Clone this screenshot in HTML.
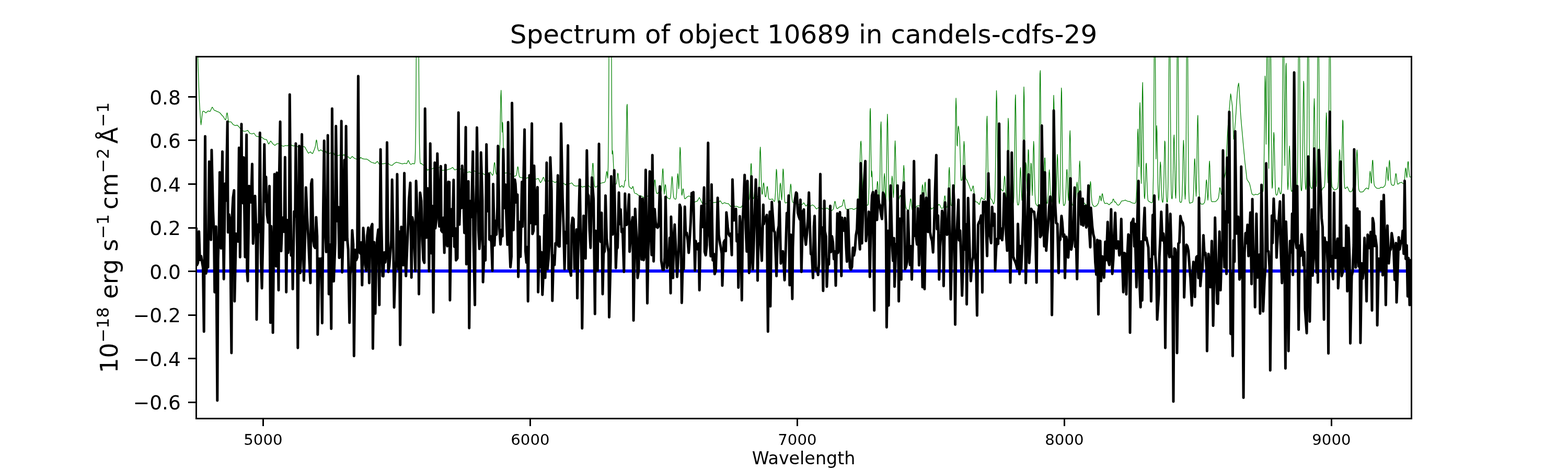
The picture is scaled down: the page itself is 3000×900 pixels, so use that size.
<!DOCTYPE html>
<html><head><meta charset="utf-8"><title>Spectrum of object 10689 in candels-cdfs-29</title><style>html,body{margin:0;padding:0;background:#fff;width:3000px;height:900px;overflow:hidden}svg{display:block}</style></head><body>
<svg width="3000" height="900" viewBox="0 0 3000 900">
<defs><clipPath id="ax"><rect x="375" y="108" width="2325" height="693"/></clipPath></defs>
<rect width="3000" height="900" fill="#fff"/>
<g clip-path="url(#ax)" fill="none" stroke-linejoin="round">
<polyline stroke="#008000" stroke-width="1.25" points="375.0,1.4 375.6,20.5 376.3,39.5 376.9,58.5 377.6,77.6 378.2,97.0 378.8,117.4 379.5,137.8 380.1,158.1 380.8,178.5 381.4,192.7 382.0,203.2 382.7,213.4 383.3,223.6 384.0,233.8 384.6,239.0 385.2,233.4 385.9,227.7 386.5,222.1 387.2,216.4 387.8,213.3 388.4,213.2 389.1,213.1 389.7,212.9 390.4,213.2 391.0,213.8 391.6,214.3 392.3,214.9 392.9,215.4 393.6,216.0 394.2,216.2 394.8,215.5 395.5,214.9 396.1,214.3 396.8,213.6 397.4,213.0 398.0,212.4 398.7,212.6 399.3,212.7 400.0,212.9 400.6,213.1 401.2,213.3 401.9,213.5 402.5,212.4 403.2,211.0 403.8,209.6 404.4,208.2 405.1,206.8 405.7,205.4 406.4,205.4 407.0,206.4 407.6,207.5 408.3,208.5 408.9,209.5 409.6,210.6 410.2,211.4 410.8,211.5 411.5,211.7 412.1,211.9 412.8,212.1 413.4,212.6 414.0,213.0 414.7,213.2 415.3,213.4 416.0,213.7 416.6,213.9 417.2,214.1 417.9,214.3 418.5,214.7 419.2,215.0 419.8,215.4 420.4,215.8 421.1,216.5 421.7,217.3 422.4,218.0 423.0,218.7 423.6,219.5 424.3,220.2 424.9,221.0 425.6,221.7 426.2,222.3 426.8,222.7 427.5,223.6 428.1,224.8 428.8,225.9 429.4,227.0 430.0,228.0 430.7,228.9 431.3,229.4 432.0,228.9 432.6,225.9 433.2,221.5 433.9,217.3 434.5,216.0 435.2,218.3 435.8,222.9 436.4,227.7 437.1,231.0 437.7,232.9 438.4,233.5 439.0,233.5 439.6,233.3 440.3,233.3 440.9,233.3 441.6,233.3 442.2,233.6 442.8,234.4 443.5,235.2 444.1,236.0 444.8,236.8 445.4,237.6 446.0,238.4 446.7,238.7 447.3,239.1 448.0,239.4 448.6,239.8 449.2,240.1 449.9,240.4 450.5,240.4 451.2,240.2 451.8,240.1 452.4,239.9 453.1,239.8 453.7,239.6 454.4,240.0 455.0,240.6 455.6,241.3 456.3,242.0 456.9,242.7 457.6,243.4 458.2,244.1 458.8,244.8 459.5,245.6 460.1,246.4 460.8,247.2 461.4,248.1 462.0,248.8 462.7,249.2 463.3,249.6 464.0,249.9 464.6,250.3 465.2,250.6 465.9,251.0 466.5,251.3 467.2,251.4 467.8,251.4 468.4,251.3 469.1,251.3 469.7,251.2 470.4,251.0 471.0,250.8 471.6,250.5 472.3,250.2 472.9,249.9 473.6,249.7 474.2,249.8 474.8,250.7 475.5,251.6 476.1,252.6 476.8,253.5 477.4,254.4 478.0,255.3 478.7,255.5 479.3,255.7 480.0,255.9 480.6,256.0 481.2,256.2 481.9,256.4 482.5,256.3 483.2,256.0 483.8,255.8 484.4,255.6 485.1,255.4 485.7,255.1 486.4,255.5 487.0,256.5 487.6,257.4 488.3,258.3 488.9,259.3 489.6,260.2 490.2,260.9 490.8,261.0 491.5,261.2 492.1,261.3 492.8,261.4 493.4,261.5 494.0,261.6 494.7,261.5 495.3,261.5 496.0,261.4 496.6,261.3 497.2,261.2 497.9,261.2 498.5,261.5 499.2,261.9 499.8,262.3 500.4,262.8 501.1,263.2 501.7,263.6 502.4,264.0 503.0,264.5 503.6,265.0 504.3,265.5 504.9,266.0 505.6,266.4 506.2,266.8 506.8,266.8 507.5,266.9 508.1,267.0 508.8,267.0 509.4,267.1 510.0,267.3 510.7,268.7 511.3,270.1 512.0,271.6 512.6,273.0 513.2,274.4 513.9,275.8 514.5,275.3 515.2,274.3 515.8,273.2 516.4,272.2 517.1,271.2 517.7,270.2 518.4,270.2 519.0,271.2 519.6,272.1 520.3,273.0 520.9,273.9 521.6,274.9 522.2,275.6 522.8,276.1 523.5,276.6 524.1,277.1 524.8,277.6 525.4,278.1 526.0,278.4 526.7,277.9 527.3,277.3 528.0,276.8 528.6,276.3 529.2,275.8 529.9,275.2 530.5,275.1 531.2,275.1 531.8,275.1 532.4,275.1 533.1,275.1 533.7,275.0 534.4,275.3 535.0,275.8 535.6,276.3 536.3,276.8 536.9,277.3 537.6,277.8 538.2,278.3 538.8,278.6 539.5,279.0 540.1,279.3 540.8,279.6 541.4,280.0 542.0,280.3 542.7,280.0 543.3,279.8 544.0,279.5 544.6,279.3 545.2,279.0 545.9,278.7 546.5,278.7 547.2,278.8 547.8,278.8 548.4,278.9 549.1,279.0 549.7,279.1 550.4,278.9 551.0,278.4 551.6,278.0 552.3,277.6 552.9,277.2 553.6,276.7 554.2,276.5 554.8,276.8 555.5,277.1 556.1,277.3 556.8,277.6 557.4,277.9 558.0,278.2 558.7,278.4 559.3,278.6 560.0,278.9 560.6,279.1 561.2,279.4 561.9,279.6 562.5,279.4 563.2,279.2 563.8,278.9 564.4,278.7 565.1,278.5 565.7,278.2 566.4,278.4 567.0,278.9 567.6,279.4 568.3,279.9 568.9,280.4 569.6,280.9 570.2,281.4 570.8,281.7 571.5,282.0 572.1,282.3 572.8,282.6 573.4,282.9 574.0,283.2 574.7,282.8 575.3,282.3 576.0,281.9 576.6,281.5 577.2,281.0 577.9,280.6 578.5,280.6 579.2,280.6 579.8,280.7 580.4,280.8 581.1,280.8 581.7,280.9 582.4,281.1 583.0,281.5 583.6,282.1 584.3,283.3 584.9,284.5 585.6,285.7 586.2,286.9 586.8,288.0 587.5,289.1 588.1,290.2 588.8,291.4 589.4,292.5 590.0,293.5 590.7,293.0 591.3,292.6 592.0,292.1 592.6,291.6 593.2,291.2 593.9,290.7 594.5,291.2 595.2,292.0 595.8,292.8 596.4,293.3 597.1,293.8 597.7,294.2 598.4,293.6 599.0,292.0 599.6,290.5 600.3,289.0 600.9,287.5 601.6,285.8 602.2,284.1 602.8,282.3 603.5,279.4 604.1,274.9 604.8,270.3 605.4,267.9 606.0,269.3 606.7,274.3 607.3,279.8 608.0,284.0 608.6,286.5 609.2,288.0 609.9,289.1 610.5,289.0 611.2,288.6 611.8,288.2 612.4,287.8 613.1,287.4 613.7,287.0 614.4,287.2 615.0,287.7 615.6,288.2 616.3,288.7 616.9,289.2 617.6,289.7 618.2,290.0 618.8,289.6 619.5,289.2 620.1,288.9 620.8,288.5 621.4,288.2 622.0,287.9 622.7,289.0 623.3,290.2 624.0,291.3 624.6,292.5 625.2,293.6 625.9,294.8 626.5,294.9 627.2,294.7 627.8,294.6 628.4,294.4 629.1,294.3 629.7,294.1 630.4,293.9 631.0,293.5 631.6,293.2 632.3,292.9 632.9,292.6 633.6,292.2 634.2,292.0 634.8,292.1 635.5,292.2 636.1,292.2 636.8,292.3 637.4,292.4 638.0,292.5 638.7,293.8 639.3,295.2 640.0,296.5 640.6,297.8 641.2,299.1 641.9,300.4 642.5,300.3 643.2,299.9 643.8,299.4 644.4,299.0 645.1,298.6 645.7,298.2 646.4,297.9 647.0,297.7 647.6,297.6 648.3,297.4 648.9,297.3 649.6,297.1 650.2,297.2 650.8,297.6 651.5,298.0 652.1,298.5 652.8,298.9 653.4,299.3 654.0,299.7 654.7,299.1 655.3,298.5 656.0,297.9 656.6,297.3 657.2,296.7 657.9,296.0 658.5,296.8 659.2,297.8 659.8,298.9 660.4,299.9 661.1,301.0 661.7,302.1 662.4,302.3 663.0,301.9 663.6,301.5 664.3,301.1 664.9,300.7 665.6,300.3 666.2,300.2 666.8,300.8 667.5,301.4 668.1,302.0 668.8,302.6 669.4,303.2 670.0,303.7 670.7,303.0 671.3,302.3 672.0,301.6 672.6,300.9 673.2,300.2 673.9,299.5 674.5,299.9 675.2,300.5 675.8,301.1 676.4,301.7 677.1,302.3 677.7,302.9 678.4,303.3 679.0,303.5 679.6,303.8 680.3,304.0 680.9,304.2 681.6,304.5 682.2,304.8 682.8,305.3 683.5,305.9 684.1,306.4 684.8,307.0 685.4,307.5 686.0,308.0 686.7,306.9 687.3,305.9 688.0,304.8 688.6,303.8 689.2,302.8 689.9,301.7 690.5,301.9 691.2,302.3 691.8,302.7 692.4,303.1 693.1,303.5 693.7,303.9 694.4,304.1 695.0,304.2 695.6,304.3 696.3,304.4 696.9,304.5 697.6,304.6 698.2,304.7 698.8,304.6 699.5,304.6 700.1,304.6 700.8,304.6 701.4,304.7 702.0,304.7 702.7,305.2 703.3,305.6 704.0,306.0 704.6,306.4 705.2,306.9 705.9,307.3 706.5,307.8 707.2,308.3 707.8,308.8 708.4,309.3 709.1,309.8 709.7,310.3 710.4,310.6 711.0,310.8 711.6,311.0 712.3,311.3 712.9,311.5 713.6,311.7 714.2,311.9 714.8,312.1 715.5,312.2 716.1,312.4 716.8,312.6 717.4,312.7 718.0,312.8 718.7,312.3 719.3,311.7 720.0,311.0 720.6,310.4 721.2,309.7 721.9,309.0 722.5,309.7 723.2,310.7 723.8,311.7 724.4,312.7 725.1,313.7 725.7,314.7 726.4,315.0 727.0,314.8 727.6,314.6 728.3,314.3 728.9,314.1 729.6,313.9 730.2,313.7 730.8,313.6 731.5,313.6 732.1,313.6 732.8,313.5 733.4,313.5 734.0,313.5 734.7,313.3 735.3,313.2 736.0,313.1 736.6,312.9 737.2,312.8 737.9,312.7 738.5,312.6 739.2,312.5 739.8,312.4 740.4,312.3 741.1,312.2 741.7,312.0 742.4,312.3 743.0,312.9 743.6,313.6 744.3,314.2 744.9,314.8 745.6,315.4 746.2,315.8 746.8,316.0 747.5,316.2 748.1,316.3 748.8,316.5 749.4,316.7 750.0,316.8 750.7,316.2 751.3,315.6 752.0,315.0 752.6,314.5 753.2,313.9 753.9,313.3 754.5,312.9 755.2,312.5 755.8,312.1 756.4,311.6 757.1,311.2 757.7,310.8 758.4,310.7 759.0,310.9 759.6,311.0 760.3,311.2 760.9,311.4 761.6,311.5 762.2,311.7 762.8,311.8 763.5,312.0 764.1,312.2 764.8,312.4 765.4,312.6 766.0,312.8 766.7,312.9 767.3,313.1 768.0,313.3 768.6,313.5 769.2,313.6 769.9,313.8 770.5,313.7 771.2,313.5 771.8,313.3 772.4,313.1 773.1,312.9 773.7,312.7 774.4,312.7 775.0,312.9 775.6,313.0 776.3,313.2 776.9,313.4 777.6,313.4 778.2,313.1 778.8,312.1 779.5,310.6 780.1,308.9 780.8,307.7 781.4,307.4 782.0,308.2 782.7,310.1 783.3,311.7 784.0,312.8 784.6,313.6 785.2,314.2 785.9,314.7 786.5,314.6 787.2,314.3 787.8,314.0 788.4,313.7 789.1,313.4 789.7,313.0 790.4,313.1 791.0,313.3 791.6,313.6 792.3,313.8 792.9,313.6 793.6,311.9 794.2,305.4 794.8,286.1 795.5,240.4 796.1,151.2 796.8,10.6 797.4,-163.3 798.0,-320.3 798.7,-397.8 799.3,-361.0 800.0,-226.7 800.6,-51.6 801.2,105.7 801.9,214.6 802.5,274.4 803.2,301.0 803.8,310.6 804.4,313.2 805.1,313.5 805.7,313.1 806.4,313.1 807.0,313.7 807.6,314.3 808.3,314.8 808.9,315.4 809.6,315.9 810.2,316.3 810.8,316.5 811.5,316.7 812.1,316.9 812.8,317.1 813.4,317.3 814.0,317.6 814.7,319.0 815.3,320.4 816.0,321.8 816.6,323.1 817.2,324.5 817.9,325.9 818.5,325.8 819.2,325.2 819.8,324.7 820.4,324.2 821.1,323.6 821.7,323.1 822.4,323.0 823.0,323.1 823.6,323.2 824.3,323.3 824.9,323.5 825.6,323.6 826.2,323.6 826.8,323.2 827.5,322.9 828.1,322.5 828.8,322.2 829.4,321.9 830.0,321.6 830.7,322.6 831.3,323.5 832.0,324.5 832.6,325.5 833.2,326.5 833.9,327.4 834.5,326.7 835.2,325.6 835.8,324.5 836.4,323.4 837.1,322.3 837.7,321.1 838.4,320.7 839.0,320.8 839.6,320.8 840.3,320.9 840.9,321.0 841.6,321.1 842.2,321.4 842.8,322.2 843.5,323.0 844.1,323.9 844.8,324.7 845.4,325.5 846.0,326.3 846.7,326.2 847.3,326.1 848.0,326.1 848.6,326.0 849.2,325.9 849.9,325.9 850.5,325.8 851.2,325.8 851.8,325.8 852.4,325.8 853.1,325.7 853.7,325.7 854.4,325.6 855.0,325.3 855.6,325.1 856.3,324.8 856.9,324.6 857.6,324.3 858.2,324.1 858.8,324.0 859.5,323.8 860.1,323.6 860.8,323.5 861.4,323.3 862.0,323.1 862.7,322.7 863.3,322.3 864.0,321.8 864.6,321.4 865.2,321.0 865.9,320.5 866.5,321.1 867.2,321.9 867.8,322.7 868.4,323.5 869.1,324.3 869.7,325.1 870.4,325.3 871.0,325.1 871.6,324.8 872.3,324.6 872.9,324.4 873.6,324.1 874.2,324.0 874.8,324.3 875.5,324.6 876.1,324.9 876.8,325.2 877.4,325.4 878.0,325.7 878.7,325.2 879.3,324.8 880.0,324.3 880.6,323.9 881.2,323.4 881.9,322.9 882.5,323.2 883.2,323.6 883.8,324.0 884.4,324.4 885.1,324.9 885.7,325.3 886.4,325.4 887.0,325.3 887.6,325.1 888.3,325.0 888.9,324.9 889.6,324.7 890.2,324.9 890.8,325.8 891.5,326.7 892.1,327.6 892.8,328.5 893.4,329.4 894.0,330.2 894.7,330.0 895.3,329.8 896.0,329.6 896.6,329.4 897.2,329.2 897.9,328.9 898.5,329.1 899.2,329.4 899.8,329.7 900.4,330.0 901.1,330.3 901.7,330.6 902.4,330.3 903.0,329.6 903.6,328.9 904.3,328.3 904.9,327.6 905.6,326.9 906.2,326.5 906.8,326.9 907.5,327.2 908.1,327.6 908.8,328.0 909.4,328.3 910.0,328.7 910.7,329.1 911.3,329.5 912.0,329.9 912.6,330.3 913.2,330.7 913.9,331.1 914.5,331.3 915.2,331.4 915.8,331.6 916.4,331.7 917.1,331.9 917.7,332.0 918.4,332.0 919.0,331.7 919.6,331.5 920.3,331.3 920.9,331.1 921.6,330.9 922.2,330.9 922.8,331.4 923.5,331.8 924.1,332.3 924.8,332.8 925.4,333.3 926.0,333.8 926.7,334.0 927.3,334.1 928.0,334.3 928.6,334.5 929.2,334.6 929.9,334.8 930.5,334.5 931.2,334.2 931.8,333.8 932.4,333.4 933.1,333.0 933.7,332.7 934.4,332.2 935.0,331.6 935.6,331.1 936.3,330.6 936.9,330.1 937.6,329.6 938.2,329.5 938.8,330.6 939.5,331.6 940.1,332.7 940.8,333.7 941.4,334.8 942.0,335.6 942.7,335.4 943.3,334.2 944.0,330.9 944.6,324.6 945.2,317.0 945.9,311.5 946.5,311.3 947.2,316.2 947.8,323.2 948.4,329.0 949.1,332.2 949.7,333.5 950.4,333.9 951.0,334.1 951.6,334.1 952.3,334.2 952.9,334.2 953.6,334.0 954.2,332.8 954.8,328.6 955.5,318.3 956.1,297.2 956.8,262.7 957.4,220.1 958.0,184.3 958.7,172.8 959.3,191.2 960.0,229.8 960.6,253.2 961.2,234.2 961.9,236.2 962.5,258.2 963.2,287.1 963.8,310.2 964.4,323.3 965.1,328.9 965.7,330.9 966.4,331.4 967.0,331.4 967.6,331.3 968.3,331.2 968.9,331.0 969.6,330.9 970.2,330.9 970.8,331.2 971.5,331.4 972.1,331.7 972.8,331.9 973.4,332.2 974.0,332.4 974.7,332.6 975.3,332.8 976.0,332.9 976.6,333.1 977.2,333.3 977.9,333.5 978.5,334.1 979.2,334.8 979.8,335.6 980.4,336.3 981.1,337.0 981.7,337.8 982.4,338.0 983.0,337.8 983.6,337.6 984.3,337.4 984.9,337.3 985.6,337.1 986.2,336.9 986.8,336.7 987.5,336.2 988.1,334.7 988.8,331.5 989.4,326.6 990.0,321.5 990.7,319.2 991.3,320.9 992.0,326.0 992.6,331.6 993.2,335.9 993.9,338.4 994.5,339.3 995.2,339.6 995.8,339.7 996.4,339.8 997.1,339.8 997.7,339.9 998.4,340.1 999.0,340.3 999.6,340.6 1000.3,340.9 1000.9,341.2 1001.6,341.4 1002.2,341.6 1002.8,341.6 1003.5,341.6 1004.1,341.6 1004.8,341.6 1005.4,341.6 1006.0,341.6 1006.7,341.3 1007.3,341.1 1008.0,340.9 1008.6,340.6 1009.2,340.4 1009.9,340.1 1010.5,340.6 1011.2,341.1 1011.8,341.7 1012.4,342.3 1013.1,342.8 1013.7,343.3 1014.4,343.5 1015.0,343.5 1015.6,343.6 1016.3,343.6 1016.9,343.6 1017.6,343.6 1018.2,343.5 1018.8,343.3 1019.5,343.1 1020.1,342.9 1020.8,342.6 1021.4,342.4 1022.0,342.2 1022.7,342.3 1023.3,342.5 1024.0,342.7 1024.6,342.8 1025.2,343.0 1025.9,343.1 1026.5,342.9 1027.2,342.7 1027.8,342.4 1028.4,342.2 1029.1,341.9 1029.7,341.7 1030.4,342.3 1031.0,343.7 1031.6,345.0 1032.3,346.4 1032.9,347.8 1033.6,349.1 1034.2,349.8 1034.8,348.9 1035.5,348.0 1036.1,347.0 1036.8,345.9 1037.4,344.4 1038.0,342.4 1038.7,341.1 1039.3,339.8 1040.0,339.5 1040.6,340.7 1041.2,343.0 1041.9,345.4 1042.5,346.8 1043.2,347.4 1043.8,347.5 1044.4,347.5 1045.1,347.4 1045.7,347.3 1046.4,347.1 1047.0,347.0 1047.6,346.9 1048.3,346.7 1048.9,346.6 1049.6,346.4 1050.2,346.4 1050.8,346.4 1051.5,346.4 1052.1,346.4 1052.8,346.4 1053.4,346.4 1054.0,346.5 1054.7,346.6 1055.3,346.7 1056.0,346.8 1056.6,346.9 1057.2,347.0 1057.9,347.1 1058.5,347.5 1059.2,347.8 1059.8,348.2 1060.4,348.6 1061.1,349.0 1061.7,349.4 1062.4,349.4 1063.0,349.0 1063.6,348.6 1064.3,348.2 1064.9,347.8 1065.6,347.4 1066.2,347.4 1066.8,348.1 1067.5,348.8 1068.1,349.6 1068.8,350.3 1069.4,351.0 1070.0,351.7 1070.7,351.8 1071.3,351.8 1072.0,351.9 1072.6,351.9 1073.2,352.0 1073.9,352.0 1074.5,351.8 1075.2,351.6 1075.8,351.4 1076.4,351.2 1077.1,351.0 1077.7,350.7 1078.4,351.0 1079.0,351.5 1079.6,352.1 1080.3,352.6 1080.9,353.1 1081.6,353.7 1082.2,353.8 1082.8,353.0 1083.5,352.2 1084.1,351.4 1084.8,350.6 1085.4,349.8 1086.0,349.0 1086.7,349.5 1087.3,350.0 1088.0,350.5 1088.6,351.0 1089.2,351.4 1089.9,351.9 1090.5,351.7 1091.2,351.4 1091.8,351.1 1092.4,350.8 1093.1,350.5 1093.7,350.2 1094.4,350.5 1095.0,351.3 1095.6,352.2 1096.3,353.0 1096.9,353.8 1097.6,354.6 1098.2,355.2 1098.8,355.4 1099.5,355.6 1100.1,355.8 1100.8,356.0 1101.4,356.2 1102.0,356.4 1102.7,356.3 1103.3,356.2 1104.0,356.1 1104.6,356.0 1105.2,355.9 1105.9,355.8 1106.5,355.7 1107.2,355.6 1107.8,355.4 1108.4,355.3 1109.1,355.2 1109.7,355.1 1110.4,355.4 1111.0,355.9 1111.6,356.4 1112.3,357.0 1112.9,357.5 1113.6,358.0 1114.2,358.3 1114.8,358.1 1115.5,357.8 1116.1,357.6 1116.8,357.4 1117.4,357.1 1118.0,356.9 1118.7,357.2 1119.3,357.4 1120.0,357.6 1120.6,357.8 1121.2,358.0 1121.9,358.3 1122.5,357.9 1123.2,357.5 1123.8,357.0 1124.4,356.6 1125.1,356.1 1125.7,355.5 1126.4,355.6 1127.0,356.2 1127.6,356.9 1128.3,357.6 1128.9,358.2 1129.6,358.9 1130.2,358.9 1130.8,357.5 1131.5,354.3 1132.1,347.7 1132.8,336.6 1133.4,323.0 1134.0,312.8 1134.7,312.6 1135.3,321.8 1136.0,335.2 1136.6,346.6 1137.2,353.6 1137.9,356.9 1138.5,357.9 1139.2,358.2 1139.8,358.3 1140.4,358.0 1141.1,357.6 1141.7,357.1 1142.4,356.6 1143.0,356.0 1143.6,355.4 1144.3,354.7 1144.9,354.1 1145.6,353.5 1146.2,353.0 1146.8,352.6 1147.5,352.2 1148.1,351.8 1148.8,351.5 1149.4,351.1 1150.0,350.7 1150.7,350.5 1151.3,350.4 1152.0,350.2 1152.6,350.0 1153.2,349.8 1153.9,349.6 1154.5,349.6 1155.2,349.6 1155.8,349.5 1156.4,349.3 1157.1,348.8 1157.7,347.8 1158.4,345.7 1159.0,341.7 1159.6,335.8 1160.3,330.3 1160.9,328.2 1161.6,331.2 1162.2,337.5 1162.8,341.2 1163.5,320.6 1164.1,270.8 1164.8,172.1 1165.4,13.3 1166.0,-188.0 1166.7,-376.5 1167.3,-478.8 1168.0,-449.2 1168.6,-301.3 1169.2,-98.9 1169.9,88.1 1170.5,220.9 1171.2,295.0 1171.8,288.1 1172.4,290.4 1173.1,301.0 1173.7,315.9 1174.4,330.1 1175.0,340.6 1175.6,347.0 1176.3,350.4 1176.9,351.9 1177.6,352.5 1178.2,352.7 1178.8,352.5 1179.5,351.0 1180.1,347.4 1180.8,341.5 1181.4,335.0 1182.0,331.5 1182.7,333.5 1183.3,339.9 1184.0,347.4 1184.6,353.2 1185.2,356.6 1185.9,358.3 1186.5,358.3 1187.2,357.7 1187.8,357.1 1188.4,356.5 1189.1,355.9 1189.7,355.3 1190.4,355.6 1191.0,356.6 1191.6,357.5 1192.3,358.3 1192.9,358.7 1193.6,358.1 1194.2,355.7 1194.8,351.0 1195.5,346.8 1196.1,345.2 1196.8,345.8 1197.4,323.9 1198.0,285.6 1198.7,238.6 1199.3,202.9 1200.0,199.7 1200.6,231.4 1201.2,278.8 1201.9,319.7 1202.5,343.9 1203.2,354.3 1203.8,357.7 1204.4,358.4 1205.1,358.8 1205.7,359.0 1206.4,359.6 1207.0,360.5 1207.6,361.2 1208.3,361.4 1208.9,360.8 1209.6,359.4 1210.2,357.7 1210.8,357.0 1211.5,358.3 1212.1,361.4 1212.8,364.8 1213.4,367.6 1214.0,369.4 1214.7,370.0 1215.3,370.3 1216.0,370.5 1216.6,370.6 1217.2,370.8 1217.9,370.9 1218.5,371.4 1219.2,371.9 1219.8,372.5 1220.4,373.0 1221.1,373.6 1221.7,374.1 1222.4,374.5 1223.0,374.6 1223.6,374.7 1224.3,374.8 1224.9,374.9 1225.6,375.1 1226.2,375.2 1226.8,375.4 1227.5,375.5 1228.1,375.9 1228.8,376.2 1229.4,376.5 1230.0,376.9 1230.7,377.4 1231.3,377.8 1232.0,378.3 1232.6,378.8 1233.2,379.2 1233.9,379.0 1234.5,378.6 1235.2,378.1 1235.8,377.6 1236.4,377.1 1237.1,376.7 1237.7,376.2 1238.4,375.8 1239.0,375.5 1239.6,375.3 1240.3,375.0 1240.9,374.7 1241.6,374.4 1242.2,374.0 1242.8,373.3 1243.5,372.8 1244.1,372.4 1244.8,372.1 1245.4,371.7 1246.0,371.4 1246.7,371.9 1247.3,372.5 1248.0,372.9 1248.6,373.3 1249.2,373.4 1249.9,372.3 1250.5,368.1 1251.2,360.9 1251.8,352.2 1252.4,345.4 1253.1,344.3 1253.7,348.8 1254.4,356.5 1255.0,363.5 1255.6,367.7 1256.3,369.6 1256.9,370.4 1257.6,370.8 1258.2,370.6 1258.8,369.7 1259.5,368.8 1260.1,367.9 1260.8,367.2 1261.4,366.9 1262.0,366.7 1262.7,367.2 1263.3,367.6 1264.0,368.0 1264.6,367.7 1265.2,365.8 1265.9,360.2 1266.5,350.2 1267.2,336.4 1267.8,324.9 1268.4,323.0 1269.1,333.0 1269.7,349.8 1270.4,364.5 1271.0,371.6 1271.6,364.4 1272.3,357.1 1272.9,353.3 1273.6,355.3 1274.2,362.1 1274.8,369.5 1275.5,374.9 1276.1,377.7 1276.8,378.8 1277.4,379.2 1278.0,379.4 1278.7,379.7 1279.3,380.0 1280.0,380.3 1280.6,380.6 1281.2,380.9 1281.9,380.8 1282.5,379.2 1283.2,375.2 1283.8,367.4 1284.4,355.9 1285.1,344.1 1285.7,337.8 1286.4,341.3 1287.0,352.1 1287.6,364.0 1288.3,372.6 1288.9,377.3 1289.6,379.3 1290.2,380.1 1290.8,380.7 1291.5,381.1 1292.1,381.4 1292.8,381.5 1293.4,380.5 1294.0,376.8 1294.7,367.8 1295.3,354.2 1296.0,340.1 1296.6,332.5 1297.2,335.9 1297.9,347.7 1298.5,361.5 1299.2,354.1 1299.8,328.7 1300.4,300.1 1301.1,282.0 1301.7,285.6 1302.4,308.5 1303.0,337.2 1303.6,359.7 1304.3,372.0 1304.9,374.0 1305.6,369.0 1306.2,363.9 1306.8,361.3 1307.5,362.8 1308.1,367.7 1308.8,373.5 1309.4,377.9 1310.0,380.5 1310.7,380.7 1311.3,380.4 1312.0,379.8 1312.6,379.2 1313.2,378.5 1313.9,377.5 1314.5,377.1 1315.2,376.7 1315.8,376.4 1316.4,376.0 1317.1,375.7 1317.7,375.3 1318.4,375.3 1319.0,375.7 1319.6,376.0 1320.3,376.3 1320.9,377.0 1321.6,378.6 1322.2,380.0 1322.8,380.8 1323.5,381.6 1324.1,382.4 1324.8,383.2 1325.4,384.0 1326.0,384.7 1326.7,385.5 1327.3,386.3 1328.0,387.0 1328.6,387.6 1329.2,387.1 1329.9,386.5 1330.5,386.2 1331.2,386.0 1331.8,385.8 1332.4,385.7 1333.1,385.5 1333.7,385.3 1334.4,384.5 1335.0,383.4 1335.6,382.3 1336.3,381.2 1336.9,380.0 1337.6,378.9 1338.2,378.2 1338.8,379.5 1339.5,380.8 1340.1,382.2 1340.8,383.5 1341.4,384.9 1342.0,386.2 1342.7,387.4 1343.3,388.7 1344.0,389.9 1344.6,390.3 1345.2,390.7 1345.9,391.1 1346.5,391.0 1347.2,390.9 1347.8,390.8 1348.4,390.7 1349.1,390.6 1349.7,390.5 1350.4,390.3 1351.0,390.0 1351.6,389.7 1352.3,389.4 1352.9,389.1 1353.6,388.8 1354.2,388.4 1354.8,387.5 1355.5,386.7 1356.1,385.9 1356.8,385.1 1357.4,384.2 1358.0,383.5 1358.7,384.3 1359.3,385.1 1360.0,385.9 1360.6,386.7 1361.2,387.4 1361.9,388.2 1362.5,388.3 1363.2,388.1 1363.8,388.0 1364.4,388.0 1365.1,387.9 1365.7,387.9 1366.4,387.8 1367.0,387.7 1367.6,387.6 1368.3,387.6 1368.9,387.5 1369.6,387.4 1370.2,387.4 1370.8,387.6 1371.5,387.9 1372.1,388.1 1372.8,388.4 1373.4,388.6 1374.0,388.8 1374.7,388.0 1375.3,387.3 1376.0,386.6 1376.6,385.9 1377.2,385.1 1377.9,384.4 1378.5,385.1 1379.2,386.1 1379.8,387.0 1380.4,388.0 1381.1,389.0 1381.7,390.0 1382.4,390.2 1383.0,389.9 1383.6,389.5 1384.3,389.1 1384.9,388.7 1385.6,388.4 1386.2,388.2 1386.8,388.4 1387.5,388.7 1388.1,388.9 1388.8,389.1 1389.4,389.4 1390.0,389.6 1390.7,389.6 1391.3,389.7 1392.0,389.8 1392.6,389.9 1393.2,390.1 1393.9,390.2 1394.5,390.9 1395.2,391.8 1395.8,392.7 1396.4,393.5 1397.1,394.4 1397.7,395.3 1398.4,395.3 1399.0,394.5 1399.6,393.8 1400.3,393.1 1400.9,392.4 1401.6,391.7 1402.2,391.5 1402.8,392.2 1403.5,392.8 1404.1,393.5 1404.8,394.1 1405.4,394.7 1406.0,395.4 1406.7,395.3 1407.3,395.3 1408.0,395.2 1408.6,395.2 1409.2,395.2 1409.9,395.1 1410.5,395.4 1411.2,395.8 1411.8,396.1 1412.4,396.4 1413.1,396.8 1413.7,397.1 1414.4,397.2 1415.0,397.2 1415.6,397.1 1416.3,397.1 1416.9,397.0 1417.6,397.0 1418.2,396.5 1418.8,395.6 1419.5,394.7 1420.1,393.8 1420.8,392.9 1421.4,392.1 1422.0,391.2 1422.7,390.6 1423.3,390.0 1424.0,389.5 1424.6,388.9 1425.2,388.3 1425.9,387.7 1426.5,387.4 1427.2,387.1 1427.8,386.8 1428.4,386.5 1429.1,386.2 1429.7,386.0 1430.4,385.5 1431.0,385.0 1431.6,384.5 1432.3,383.9 1432.9,383.1 1433.6,381.2 1434.2,376.7 1434.8,366.8 1435.5,349.8 1436.1,329.1 1436.8,313.9 1437.4,313.2 1438.0,327.3 1438.7,347.7 1439.3,364.7 1440.0,374.6 1440.6,379.0 1441.2,380.4 1441.9,379.5 1442.5,376.6 1443.2,371.3 1443.8,364.2 1444.4,357.8 1445.1,355.3 1445.7,357.9 1446.4,364.0 1447.0,370.1 1447.6,374.0 1448.3,375.8 1448.9,376.3 1449.6,376.3 1450.2,376.0 1450.8,375.1 1451.5,371.4 1452.1,361.4 1452.8,342.0 1453.4,314.8 1454.0,290.2 1454.7,281.6 1455.3,294.8 1456.0,321.3 1456.6,347.2 1457.2,364.1 1457.9,372.0 1458.5,371.7 1459.2,366.3 1459.8,358.8 1460.4,352.2 1461.1,350.1 1461.7,353.7 1462.4,361.2 1463.0,368.8 1463.6,374.0 1464.3,376.8 1464.9,377.0 1465.6,374.9 1466.2,370.3 1466.8,363.8 1467.5,358.2 1468.1,356.9 1468.8,361.1 1469.4,368.4 1470.0,375.3 1470.7,379.4 1471.3,381.3 1472.0,381.9 1472.6,382.0 1473.2,381.9 1473.9,381.8 1474.5,381.7 1475.2,381.6 1475.8,381.5 1476.4,381.3 1477.1,381.2 1477.7,381.1 1478.4,381.6 1479.0,382.5 1479.6,383.5 1480.3,384.5 1480.9,385.4 1481.6,385.9 1482.2,385.0 1482.8,380.6 1483.5,370.4 1484.1,353.9 1484.8,335.4 1485.4,324.1 1486.0,327.2 1486.7,342.8 1487.3,362.0 1488.0,376.9 1488.6,385.1 1489.2,388.7 1489.9,388.1 1490.5,383.8 1491.2,375.7 1491.8,364.5 1492.4,354.3 1493.1,350.6 1493.7,355.4 1494.4,366.3 1495.0,377.5 1495.6,382.6 1496.3,372.3 1496.9,355.0 1497.6,335.5 1498.2,323.5 1498.8,325.9 1499.5,341.9 1500.1,361.8 1500.8,377.0 1501.4,385.0 1502.0,387.8 1502.7,388.6 1503.3,388.6 1504.0,388.4 1504.6,388.1 1505.2,387.8 1505.9,387.5 1506.5,387.9 1507.2,388.6 1507.8,389.2 1508.4,389.7 1509.1,389.9 1509.7,389.0 1510.4,384.8 1511.0,376.5 1511.6,365.5 1512.3,355.8 1512.9,352.4 1513.6,357.0 1514.2,366.6 1514.8,376.3 1515.5,382.7 1516.1,385.9 1516.8,387.2 1517.4,387.7 1518.0,388.1 1518.7,388.5 1519.3,388.9 1520.0,389.3 1520.6,389.7 1521.2,390.1 1521.9,390.5 1522.5,390.4 1523.2,390.2 1523.8,390.0 1524.4,389.8 1525.1,389.6 1525.7,389.4 1526.4,389.6 1527.0,390.3 1527.6,390.9 1528.3,391.5 1528.9,392.1 1529.6,392.8 1530.2,393.1 1530.8,393.0 1531.5,392.8 1532.1,392.7 1532.8,392.5 1533.4,392.3 1534.0,392.1 1534.7,391.5 1535.3,390.9 1536.0,390.2 1536.6,389.6 1537.2,388.9 1537.9,388.3 1538.5,389.1 1539.2,390.1 1539.8,391.2 1540.4,392.3 1541.1,393.3 1541.7,394.4 1542.4,394.4 1543.0,393.7 1543.6,392.9 1544.3,392.2 1544.9,391.4 1545.6,390.7 1546.2,390.4 1546.8,391.2 1547.5,392.0 1548.1,392.8 1548.8,393.6 1549.4,394.4 1550.0,395.1 1550.7,394.7 1551.3,394.2 1552.0,393.8 1552.6,393.3 1553.2,392.9 1553.9,392.4 1554.5,392.5 1555.2,392.7 1555.8,393.0 1556.4,393.5 1557.1,394.0 1557.7,394.4 1558.4,395.1 1559.0,396.0 1559.6,396.9 1560.3,397.8 1560.9,398.7 1561.6,399.7 1562.2,400.1 1562.8,399.7 1563.5,399.3 1564.1,398.9 1564.8,398.5 1565.4,398.0 1566.0,397.6 1566.7,397.4 1567.3,397.3 1568.0,397.1 1568.6,397.0 1569.2,396.8 1569.9,396.6 1570.5,397.1 1571.2,397.6 1571.8,398.1 1572.4,398.7 1573.1,399.2 1573.7,399.8 1574.4,400.1 1575.0,400.3 1575.6,400.4 1576.3,400.6 1576.9,400.8 1577.6,400.9 1578.2,400.9 1578.8,400.4 1579.5,400.0 1580.1,399.5 1580.8,399.0 1581.4,398.6 1582.0,398.2 1582.7,398.6 1583.3,399.1 1584.0,399.5 1584.6,400.0 1585.2,400.5 1585.9,400.9 1586.5,401.4 1587.2,401.8 1587.8,402.3 1588.4,402.8 1589.1,403.2 1589.7,403.7 1590.4,403.8 1591.0,403.4 1591.6,402.9 1592.3,402.5 1592.9,402.0 1593.6,401.5 1594.2,400.5 1594.8,398.7 1595.5,395.6 1596.1,391.5 1596.8,387.4 1597.4,385.3 1598.0,386.3 1598.7,390.1 1599.3,394.0 1600.0,396.8 1600.6,398.4 1601.2,399.2 1601.9,399.7 1602.5,399.3 1603.2,398.7 1603.8,398.2 1604.4,397.6 1605.1,397.1 1605.7,396.6 1606.4,396.3 1607.0,396.1 1607.6,395.9 1608.3,395.7 1608.9,395.4 1609.6,395.1 1610.2,394.8 1610.8,394.5 1611.5,393.4 1612.1,391.2 1612.8,388.1 1613.4,384.9 1614.0,382.7 1614.7,382.5 1615.3,384.7 1616.0,388.6 1616.6,392.8 1617.2,396.3 1617.9,398.8 1618.5,400.0 1619.2,400.5 1619.8,400.8 1620.4,400.9 1621.1,401.0 1621.7,401.1 1622.4,401.1 1623.0,400.9 1623.6,400.7 1624.3,400.4 1624.9,400.2 1625.6,400.0 1626.2,399.8 1626.8,399.7 1627.5,399.6 1628.1,399.6 1628.8,399.5 1629.4,399.4 1630.0,399.3 1630.7,399.7 1631.3,400.1 1632.0,400.5 1632.6,401.0 1633.2,401.2 1633.9,401.1 1634.5,400.7 1635.2,400.4 1635.8,400.0 1636.4,399.6 1637.1,399.2 1637.7,398.8 1638.4,398.6 1639.0,398.6 1639.6,398.6 1640.3,398.5 1640.9,398.0 1641.6,396.1 1642.2,392.3 1642.8,385.2 1643.5,373.6 1644.1,356.6 1644.8,334.4 1645.4,309.7 1646.0,287.2 1646.7,272.8 1647.3,270.1 1648.0,279.7 1648.6,298.5 1649.2,321.2 1649.9,342.6 1650.5,359.2 1651.2,370.2 1651.8,376.3 1652.4,380.6 1653.1,383.6 1653.7,385.6 1654.4,387.3 1655.0,389.1 1655.6,390.7 1656.3,391.8 1656.9,392.1 1657.6,392.5 1658.2,392.7 1658.8,392.8 1659.5,392.9 1660.1,392.8 1660.8,392.2 1661.4,389.2 1662.0,379.4 1662.7,355.0 1663.3,311.5 1664.0,256.4 1664.6,213.4 1665.2,207.6 1665.9,242.5 1666.5,297.0 1667.2,338.6 1667.8,327.2 1668.4,330.4 1669.1,346.1 1669.7,365.5 1670.4,380.4 1671.0,388.4 1671.6,391.7 1672.3,392.7 1672.9,392.9 1673.6,392.9 1674.2,392.6 1674.8,391.8 1675.5,390.2 1676.1,386.7 1676.8,379.4 1677.4,367.8 1678.0,354.9 1678.7,347.3 1679.3,349.2 1680.0,359.4 1680.6,372.2 1681.2,382.2 1681.9,388.0 1682.5,379.7 1683.2,359.5 1683.8,323.1 1684.4,276.5 1685.1,239.4 1685.7,233.2 1686.4,262.7 1687.0,309.9 1687.6,351.7 1688.3,377.8 1688.9,390.2 1689.6,386.2 1690.2,373.9 1690.8,355.9 1691.5,338.8 1692.1,332.2 1692.8,340.7 1693.4,359.2 1694.0,378.0 1694.7,389.7 1695.3,373.4 1696.0,339.3 1696.6,289.6 1697.2,240.8 1697.9,218.6 1698.5,236.9 1699.2,283.3 1699.8,332.2 1700.4,366.0 1701.1,382.8 1701.7,388.8 1702.4,390.3 1703.0,389.9 1703.6,387.9 1704.3,382.6 1704.9,372.3 1705.6,357.5 1706.2,343.4 1706.8,337.2 1707.5,342.9 1708.1,356.2 1708.8,369.6 1709.4,378.2 1710.0,367.7 1710.7,345.7 1711.3,313.6 1712.0,282.6 1712.6,269.6 1713.2,283.1 1713.9,314.6 1714.5,347.4 1715.2,370.0 1715.8,381.5 1716.4,386.0 1717.1,387.1 1717.7,387.3 1718.4,386.2 1719.0,384.1 1719.6,382.0 1720.3,379.9 1720.9,377.8 1721.6,375.7 1722.2,374.1 1722.8,375.2 1723.5,376.9 1724.1,378.7 1724.8,380.3 1725.4,381.4 1726.0,380.8 1726.7,375.2 1727.3,363.0 1728.0,344.4 1728.6,325.5 1729.2,316.7 1729.9,323.8 1730.5,343.9 1731.2,365.8 1731.8,381.9 1732.4,391.1 1733.1,395.8 1733.7,398.6 1734.4,400.1 1735.0,400.9 1735.6,401.7 1736.3,402.5 1736.9,403.3 1737.6,404.1 1738.2,404.2 1738.8,403.0 1739.5,401.2 1740.1,397.9 1740.8,392.8 1741.4,386.3 1742.0,380.9 1742.7,380.8 1743.3,384.9 1744.0,391.3 1744.6,397.2 1745.2,401.2 1745.9,403.5 1746.5,403.8 1747.2,403.5 1747.8,403.1 1748.4,402.7 1749.1,402.3 1749.7,401.6 1750.4,400.6 1751.0,399.6 1751.6,398.5 1752.3,397.5 1752.9,396.5 1753.6,395.4 1754.2,394.7 1754.8,394.5 1755.5,394.3 1756.1,394.2 1756.8,394.0 1757.4,393.9 1758.0,394.0 1758.7,393.8 1759.3,393.6 1760.0,393.3 1760.6,393.0 1761.2,392.3 1761.9,390.6 1762.5,386.3 1763.2,378.2 1763.8,367.2 1764.4,357.2 1765.1,353.6 1765.7,358.5 1766.4,368.5 1767.0,378.1 1767.6,381.5 1768.3,372.3 1768.9,360.4 1769.6,350.7 1770.2,348.7 1770.8,355.8 1771.5,367.3 1772.1,377.6 1772.8,384.1 1773.4,387.1 1774.0,388.3 1774.7,387.8 1775.3,388.6 1776.0,389.4 1776.6,390.2 1777.2,391.0 1777.9,391.8 1778.5,393.0 1779.2,394.2 1779.8,395.5 1780.4,396.8 1781.1,398.1 1781.7,399.3 1782.4,400.3 1783.0,400.0 1783.6,399.4 1784.3,398.8 1784.9,398.2 1785.6,397.6 1786.2,397.5 1786.8,398.4 1787.5,399.3 1788.1,400.2 1788.8,400.4 1789.4,400.4 1790.0,400.3 1790.7,399.5 1791.3,398.8 1792.0,398.0 1792.6,397.3 1793.2,396.5 1793.9,395.8 1794.5,394.5 1795.2,393.0 1795.8,391.5 1796.4,391.3 1797.1,391.8 1797.7,392.3 1798.4,393.3 1799.0,394.7 1799.6,396.1 1800.3,397.5 1800.9,398.5 1801.6,398.9 1802.2,399.1 1802.8,398.8 1803.5,398.5 1804.1,397.9 1804.8,396.4 1805.4,393.1 1806.0,387.4 1806.7,380.6 1807.3,375.4 1808.0,375.0 1808.6,379.6 1809.2,386.4 1809.9,392.3 1810.5,395.6 1811.2,396.8 1811.8,396.7 1812.4,395.2 1813.1,391.5 1813.7,382.8 1814.4,367.2 1815.0,346.0 1815.6,326.8 1816.3,320.5 1816.9,331.4 1817.6,352.8 1818.2,373.4 1818.8,386.4 1819.5,392.3 1820.1,393.8 1820.8,393.6 1821.4,392.9 1822.0,392.2 1822.7,392.4 1823.3,392.5 1824.0,392.1 1824.6,391.3 1825.2,389.0 1825.9,381.9 1826.5,357.9 1827.2,316.0 1827.8,260.9 1828.4,210.2 1829.1,187.9 1829.7,203.0 1830.4,240.9 1831.0,277.5 1831.6,279.7 1832.3,259.9 1832.9,246.4 1833.6,241.3 1834.2,243.8 1834.8,250.4 1835.5,255.8 1836.1,262.5 1836.8,286.2 1837.4,307.2 1838.0,326.7 1838.7,344.8 1839.3,345.5 1840.0,345.4 1840.6,344.7 1841.2,342.3 1841.9,335.6 1842.5,322.0 1843.2,301.4 1843.8,280.7 1844.4,270.7 1845.1,278.0 1845.7,297.9 1846.4,319.1 1847.0,333.8 1847.6,341.0 1848.3,343.4 1848.9,343.6 1849.6,344.5 1850.2,345.6 1850.8,347.1 1851.5,348.6 1852.1,350.2 1852.8,351.7 1853.4,353.3 1854.0,354.8 1854.7,356.7 1855.3,358.5 1856.0,360.3 1856.6,362.2 1857.2,364.0 1857.9,365.8 1858.5,365.2 1859.2,363.8 1859.8,362.1 1860.4,360.0 1861.1,357.7 1861.7,355.8 1862.4,357.8 1863.0,363.0 1863.6,368.5 1864.3,373.7 1864.9,378.6 1865.6,383.1 1866.2,386.1 1866.8,386.4 1867.5,386.5 1868.1,386.7 1868.8,386.9 1869.4,387.1 1870.0,387.3 1870.7,388.1 1871.3,389.0 1872.0,389.8 1872.6,390.6 1873.2,391.4 1873.9,391.4 1874.5,389.4 1875.2,387.1 1875.8,384.8 1876.4,382.4 1877.1,380.1 1877.7,378.4 1878.4,378.6 1879.0,379.2 1879.6,379.9 1880.3,380.6 1880.9,381.3 1881.6,381.7 1882.2,382.1 1882.8,382.3 1883.5,382.3 1884.1,381.9 1884.8,379.6 1885.4,371.6 1886.0,351.7 1886.7,315.3 1887.3,267.8 1888.0,229.4 1888.6,222.4 1889.2,251.4 1889.9,298.6 1890.5,340.7 1891.2,361.0 1891.8,350.1 1892.4,344.9 1893.1,348.4 1893.7,358.5 1894.4,369.3 1895.0,376.7 1895.6,380.4 1896.3,381.5 1896.9,381.6 1897.6,382.5 1898.2,383.7 1898.8,385.4 1899.5,387.2 1900.1,388.9 1900.8,390.6 1901.4,389.8 1902.0,388.6 1902.7,385.2 1903.3,377.2 1904.0,357.9 1904.6,319.6 1905.2,262.2 1905.9,203.4 1906.5,173.5 1907.2,190.2 1907.8,242.0 1908.4,299.5 1909.1,340.4 1909.7,361.1 1910.4,368.0 1911.0,368.8 1911.6,367.7 1912.3,366.2 1912.9,364.5 1913.6,362.9 1914.2,361.4 1914.8,361.5 1915.5,362.3 1916.1,363.1 1916.8,363.9 1917.4,364.7 1918.0,365.3 1918.7,365.9 1919.3,365.3 1920.0,361.5 1920.6,353.6 1921.2,343.7 1921.9,337.1 1922.5,339.2 1923.2,349.7 1923.8,363.6 1924.4,375.5 1925.1,383.3 1925.7,383.3 1926.4,371.9 1927.0,344.9 1927.6,301.9 1928.3,254.7 1928.9,226.4 1929.6,234.3 1930.2,273.1 1930.8,320.6 1931.5,356.8 1932.1,376.4 1932.8,384.4 1933.4,386.9 1934.0,387.7 1934.7,388.3 1935.3,388.8 1936.0,389.3 1936.6,389.8 1937.2,390.2 1937.9,390.6 1938.5,390.0 1939.2,386.9 1939.8,376.5 1940.4,350.3 1941.1,302.6 1941.7,240.5 1942.4,190.5 1943.0,181.5 1943.6,219.4 1944.3,281.0 1944.9,336.3 1945.6,370.5 1946.2,386.1 1946.8,391.3 1947.5,392.7 1948.1,392.7 1948.8,391.8 1949.4,388.6 1950.0,380.7 1950.7,365.7 1951.3,344.9 1952.0,326.4 1952.6,320.8 1953.2,331.7 1953.9,352.4 1954.5,371.6 1955.2,383.6 1955.8,382.9 1956.4,363.5 1957.1,323.3 1957.7,262.0 1958.4,198.8 1959.0,166.4 1959.6,184.7 1960.3,242.2 1960.9,306.9 1961.6,347.4 1962.2,324.5 1962.8,311.3 1963.5,316.2 1964.1,336.3 1964.8,360.1 1965.4,366.7 1966.0,339.7 1966.7,307.9 1967.3,286.4 1968.0,288.3 1968.6,312.6 1969.2,345.0 1969.9,371.2 1970.5,374.3 1971.2,353.2 1971.8,328.7 1972.4,312.4 1973.1,313.8 1973.7,331.8 1974.4,355.5 1975.0,374.3 1975.6,357.0 1976.3,324.8 1976.9,290.3 1977.6,270.7 1978.2,278.3 1978.8,308.2 1979.5,343.1 1980.1,369.0 1980.8,383.0 1981.4,388.7 1982.0,390.7 1982.7,391.8 1983.3,392.6 1984.0,393.3 1984.6,394.0 1985.2,394.6 1985.9,394.2 1986.5,389.1 1987.2,374.0 1987.8,338.9 1988.4,277.2 1989.1,200.1 1989.7,141.2 1990.4,135.0 1991.0,185.4 1991.6,261.2 1992.3,326.5 1992.9,346.7 1993.6,332.1 1994.2,329.3 1994.8,340.3 1995.5,358.1 1996.1,374.1 1996.8,369.9 1997.4,347.9 1998.0,321.3 1998.7,302.3 1999.3,302.3 2000.0,321.3 2000.6,347.9 2001.2,369.9 2001.9,382.7 2002.5,388.1 2003.2,389.6 2003.8,389.0 2004.4,386.3 2005.1,379.5 2005.7,366.5 2006.4,348.4 2007.0,331.5 2007.6,325.1 2008.3,333.3 2008.9,350.9 2009.6,368.6 2010.2,380.4 2010.8,385.9 2011.5,388.2 2012.1,387.2 2012.8,381.6 2013.4,365.1 2014.0,329.7 2014.7,274.4 2015.3,215.2 2016.0,182.4 2016.6,197.1 2017.2,250.2 2017.9,312.1 2018.5,357.2 2019.2,380.8 2019.8,389.7 2020.4,381.0 2021.1,363.3 2021.7,336.5 2022.4,309.3 2023.0,295.6 2023.6,303.6 2024.3,328.4 2024.9,356.3 2025.6,376.6 2026.2,387.0 2026.8,390.2 2027.5,384.2 2028.1,367.7 2028.8,331.9 2029.4,273.7 2030.0,208.1 2030.7,168.4 2031.3,177.9 2032.0,231.3 2032.6,298.1 2033.2,350.5 2033.9,380.0 2034.5,391.0 2035.2,393.7 2035.8,393.7 2036.4,393.0 2037.1,391.8 2037.7,389.8 2038.4,385.7 2039.0,376.7 2039.6,360.9 2040.3,341.0 2040.9,325.8 2041.6,324.3 2042.2,337.6 2042.8,357.9 2043.5,375.4 2044.1,383.9 2044.8,368.4 2045.4,338.3 2046.0,297.3 2046.7,260.8 2047.3,250.1 2048.0,272.0 2048.6,312.6 2049.2,351.1 2049.9,375.8 2050.5,387.4 2051.2,391.5 2051.8,392.6 2052.4,392.7 2053.1,392.5 2053.7,392.2 2054.4,392.1 2055.0,392.0 2055.6,391.9 2056.3,391.7 2056.9,391.1 2057.6,389.3 2058.2,384.7 2058.8,376.1 2059.5,363.8 2060.1,352.6 2060.8,348.7 2061.4,354.8 2062.0,367.2 2062.7,378.9 2063.3,378.9 2064.0,361.6 2064.6,337.5 2065.2,315.7 2065.9,308.2 2066.5,319.4 2067.2,342.1 2067.8,364.2 2068.4,378.6 2069.1,385.2 2069.7,387.2 2070.4,387.7 2071.0,388.0 2071.6,388.1 2072.3,388.2 2072.9,388.3 2073.6,388.4 2074.2,388.6 2074.8,389.2 2075.5,389.8 2076.1,390.4 2076.8,390.9 2077.4,391.5 2078.0,392.0 2078.7,392.1 2079.3,392.1 2080.0,392.2 2080.6,392.3 2081.2,392.4 2081.9,392.4 2082.5,392.0 2083.2,390.6 2083.8,386.6 2084.4,378.3 2085.1,365.9 2085.7,353.5 2086.4,347.7 2087.0,352.0 2087.6,363.7 2088.3,376.3 2088.9,385.0 2089.6,389.4 2090.2,391.2 2090.8,392.5 2091.5,393.4 2092.1,394.2 2092.8,395.0 2093.4,395.5 2094.0,395.8 2094.7,395.5 2095.3,395.2 2096.0,394.9 2096.6,394.7 2097.2,394.4 2097.9,394.1 2098.5,393.4 2099.2,392.5 2099.8,391.6 2100.4,390.7 2101.1,389.6 2101.7,387.9 2102.4,385.5 2103.0,382.1 2103.6,378.0 2104.3,375.1 2104.9,375.3 2105.6,378.5 2106.2,382.7 2106.8,384.7 2107.5,380.0 2108.1,374.6 2108.8,371.0 2109.4,371.2 2110.0,374.9 2110.7,379.6 2111.3,383.2 2112.0,385.1 2112.6,387.0 2113.2,388.4 2113.9,389.6 2114.5,389.7 2115.2,389.6 2115.8,389.4 2116.4,389.3 2117.1,389.2 2117.7,389.0 2118.4,389.3 2119.0,389.8 2119.6,390.3 2120.3,390.8 2120.9,391.4 2121.6,391.9 2122.2,392.0 2122.8,391.4 2123.5,390.8 2124.1,390.1 2124.8,389.3 2125.4,388.5 2126.0,387.8 2126.7,388.1 2127.3,387.9 2128.0,386.7 2128.6,384.5 2129.2,382.1 2129.9,381.1 2130.5,381.3 2131.2,383.1 2131.8,385.3 2132.4,386.7 2133.1,387.0 2133.7,386.6 2134.4,386.9 2135.0,387.9 2135.6,388.8 2136.3,389.8 2136.9,390.8 2137.6,391.8 2138.2,392.5 2138.8,392.7 2139.5,392.8 2140.1,392.9 2140.8,392.4 2141.4,391.8 2142.0,391.3 2142.7,390.3 2143.3,389.2 2144.0,388.1 2144.6,387.1 2145.2,386.0 2145.9,385.0 2146.5,384.7 2147.2,384.7 2147.8,384.6 2148.4,384.6 2149.1,384.5 2149.7,384.4 2150.4,384.3 2151.0,384.0 2151.6,383.7 2152.3,383.4 2152.9,383.1 2153.6,383.5 2154.2,384.0 2154.8,384.2 2155.5,384.5 2156.1,384.7 2156.8,385.0 2157.4,385.3 2158.0,385.5 2158.7,385.6 2159.3,385.6 2160.0,385.7 2160.6,385.8 2161.2,385.8 2161.9,385.9 2162.5,386.4 2163.2,386.9 2163.8,387.2 2164.4,387.6 2165.1,387.9 2165.7,388.3 2166.4,388.5 2167.0,388.7 2167.6,388.9 2168.3,389.0 2168.9,389.2 2169.6,389.4 2170.2,389.4 2170.8,389.3 2171.5,389.1 2172.1,388.8 2172.8,387.9 2173.4,385.5 2174.0,378.6 2174.7,362.7 2175.3,332.3 2176.0,291.2 2176.6,256.1 2177.2,247.2 2177.9,270.6 2178.5,311.6 2179.2,319.4 2179.8,263.8 2180.4,213.5 2181.1,196.5 2181.7,223.6 2182.4,277.8 2183.0,330.6 2183.6,351.3 2184.3,302.7 2184.9,235.9 2185.6,176.6 2186.2,157.8 2186.8,191.3 2187.5,256.1 2188.1,318.3 2188.8,358.6 2189.4,377.4 2190.0,380.5 2190.7,370.8 2191.3,353.5 2192.0,331.6 2192.6,314.5 2193.2,312.3 2193.9,326.4 2194.5,348.1 2195.2,367.0 2195.8,378.3 2196.4,383.3 2197.1,384.9 2197.7,385.2 2198.4,385.5 2199.0,385.9 2199.6,386.3 2200.3,386.8 2200.9,387.2 2201.6,387.7 2202.2,388.0 2202.8,388.0 2203.5,388.1 2204.1,388.0 2204.8,387.2 2205.4,383.6 2206.0,370.5 2206.7,333.9 2207.3,258.6 2208.0,145.5 2208.6,31.2 2209.2,-24.2 2209.9,14.0 2210.5,121.8 2211.2,239.2 2211.8,304.3 2212.4,262.8 2213.1,240.6 2213.7,251.8 2214.4,289.0 2215.0,331.3 2215.6,362.2 2216.3,378.3 2216.9,383.7 2217.6,376.7 2218.2,362.8 2218.8,342.0 2219.5,320.7 2220.1,310.1 2220.8,316.7 2221.4,336.5 2222.0,358.4 2222.7,374.5 2223.3,383.1 2224.0,386.7 2224.6,387.5 2225.2,385.3 2225.9,377.8 2226.5,359.5 2227.2,329.0 2227.8,293.5 2228.4,269.9 2229.1,272.4 2229.7,299.2 2230.4,334.5 2231.0,362.8 2231.6,378.7 2232.3,385.4 2232.9,387.5 2233.6,385.6 2234.2,377.0 2234.8,350.8 2235.5,291.1 2236.1,189.7 2236.8,68.9 2237.4,-15.5 2238.0,-13.0 2238.7,74.5 2239.3,194.6 2240.0,292.7 2240.6,349.0 2241.2,372.8 2241.9,380.2 2242.5,380.9 2243.2,375.6 2243.8,361.3 2244.4,333.7 2245.1,296.7 2245.7,265.7 2246.4,258.4 2247.0,279.9 2247.6,317.3 2248.3,351.7 2248.9,373.3 2249.6,379.7 2250.2,359.4 2250.8,309.8 2251.5,218.3 2252.1,99.3 2252.8,2.9 2253.4,-14.3 2254.0,58.9 2254.7,176.7 2255.3,282.2 2256.0,346.9 2256.6,375.8 2257.2,385.2 2257.9,387.0 2258.5,387.4 2259.2,387.6 2259.8,387.4 2260.4,386.6 2261.1,383.2 2261.7,373.4 2262.4,352.8 2263.0,320.7 2263.6,286.8 2264.3,268.7 2264.9,277.8 2265.6,308.6 2266.2,343.5 2266.8,368.5 2267.5,381.4 2268.1,371.0 2268.8,335.2 2269.4,260.9 2270.0,148.5 2270.7,34.4 2271.3,-22.5 2272.0,14.0 2272.6,120.9 2273.2,239.2 2273.9,324.4 2274.5,367.7 2275.2,384.1 2275.8,388.6 2276.4,389.2 2277.1,389.0 2277.7,388.5 2278.4,388.3 2279.0,388.2 2279.6,388.0 2280.3,387.9 2280.9,387.7 2281.6,387.3 2282.2,385.9 2282.8,381.6 2283.5,370.8 2284.1,350.9 2284.8,325.7 2285.4,306.1 2286.0,303.9 2286.7,319.7 2287.3,344.6 2288.0,366.2 2288.6,376.0 2289.2,354.8 2289.9,316.7 2290.5,267.8 2291.2,228.3 2291.8,220.9 2292.4,250.4 2293.1,298.5 2293.7,341.6 2294.4,368.6 2295.0,381.5 2295.6,386.5 2296.3,388.4 2296.9,389.4 2297.6,390.2 2298.2,390.8 2298.8,390.8 2299.5,390.8 2300.1,390.8 2300.8,390.8 2301.4,390.8 2302.0,390.8 2302.7,390.1 2303.3,389.4 2304.0,388.6 2304.6,387.4 2305.2,384.7 2305.9,379.1 2306.5,369.8 2307.2,357.5 2307.8,346.9 2308.4,344.3 2309.1,351.4 2309.7,364.0 2310.4,375.7 2311.0,383.3 2311.6,375.0 2312.3,358.3 2312.9,335.2 2313.6,314.8 2314.2,308.3 2314.8,319.7 2315.5,342.1 2316.1,363.5 2316.8,377.3 2317.4,383.6 2318.0,385.6 2318.7,386.2 2319.3,386.3 2320.0,386.2 2320.6,386.2 2321.2,386.1 2321.9,386.1 2322.5,386.1 2323.2,386.1 2323.8,386.1 2324.4,386.1 2325.1,386.1 2325.7,386.0 2326.4,385.5 2327.0,384.8 2327.6,384.1 2328.3,383.5 2328.9,382.8 2329.6,382.0 2330.2,381.1 2330.8,380.0 2331.5,377.6 2332.1,373.2 2332.8,367.2 2333.4,361.5 2334.0,359.1 2334.7,360.6 2335.3,365.2 2336.0,369.7 2336.6,372.4 2337.2,371.9 2337.9,368.1 2338.5,364.3 2339.2,360.5 2339.8,356.6 2340.4,352.7 2341.1,348.9 2341.7,345.6 2342.4,342.4 2343.0,339.2 2343.6,336.0 2344.3,332.8 2344.9,329.3 2345.6,316.5 2346.2,303.6 2346.8,290.5 2347.5,277.3 2348.1,264.1 2348.8,251.0 2349.4,241.2 2350.0,233.4 2350.7,225.7 2351.3,218.0 2352.0,210.3 2352.6,202.6 2353.2,194.8 2353.9,187.1 2354.5,179.7 2355.2,183.0 2355.8,188.0 2356.4,192.9 2357.1,197.8 2357.7,202.7 2358.4,214.6 2359.0,232.0 2359.6,249.3 2360.3,266.6 2360.9,264.4 2361.6,257.6 2362.2,250.4 2362.8,242.3 2363.5,234.2 2364.1,225.7 2364.8,215.7 2365.4,205.6 2366.0,195.6 2366.7,186.5 2367.3,177.5 2368.0,168.4 2368.6,165.1 2369.2,162.1 2369.9,159.2 2370.5,165.2 2371.2,176.0 2371.8,186.8 2372.4,197.5 2373.1,208.3 2373.7,219.1 2374.4,227.9 2375.0,235.1 2375.6,242.2 2376.3,249.4 2376.9,256.6 2377.6,263.8 2378.2,270.9 2378.8,277.8 2379.5,284.7 2380.1,291.6 2380.8,298.4 2381.4,305.3 2382.0,311.6 2382.7,317.2 2383.3,322.7 2384.0,328.3 2384.6,333.8 2385.2,339.4 2385.9,343.8 2386.5,344.8 2387.2,345.7 2387.8,346.7 2388.4,347.6 2389.1,348.5 2389.7,349.4 2390.4,350.9 2391.0,352.8 2391.6,354.9 2392.3,357.9 2392.9,360.9 2393.6,363.8 2394.2,366.7 2394.8,369.3 2395.5,371.6 2396.1,372.1 2396.8,372.5 2397.4,372.9 2398.0,373.3 2398.7,373.4 2399.3,373.4 2400.0,373.1 2400.6,372.8 2401.2,372.4 2401.9,372.1 2402.5,372.1 2403.2,372.3 2403.8,372.4 2404.4,372.5 2405.1,372.6 2405.7,372.7 2406.4,372.6 2407.0,372.2 2407.6,371.7 2408.3,371.2 2408.9,370.7 2409.6,370.2 2410.2,369.8 2410.8,369.5 2411.5,369.3 2412.1,369.0 2412.8,368.8 2413.4,368.5 2414.0,368.2 2414.7,367.8 2415.3,367.7 2416.0,367.3 2416.6,365.7 2417.2,359.7 2417.9,342.7 2418.5,305.5 2419.2,246.6 2419.8,182.7 2420.4,145.6 2421.1,158.1 2421.7,211.7 2422.4,276.2 2423.0,215.4 2423.6,103.3 2424.3,5.6 2424.9,-22.0 2425.6,38.7 2426.2,150.0 2426.8,254.9 2427.5,322.4 2428.1,273.0 2428.8,174.6 2429.4,60.3 2430.0,-15.6 2430.7,-6.8 2431.3,80.8 2432.0,195.6 2432.6,287.3 2433.2,339.0 2433.9,360.7 2434.5,357.6 2435.2,339.2 2435.8,309.1 2436.4,275.1 2437.1,253.7 2437.7,257.9 2438.4,285.5 2439.0,320.5 2439.6,347.9 2440.3,363.4 2440.9,370.3 2441.6,373.0 2442.2,373.9 2442.8,373.7 2443.5,372.9 2444.1,371.3 2444.8,368.3 2445.4,364.2 2446.0,360.5 2446.7,359.1 2447.3,360.8 2448.0,364.4 2448.6,368.0 2449.2,370.2 2449.9,371.2 2450.5,371.3 2451.2,369.9 2451.8,364.3 2452.4,346.1 2453.1,300.8 2453.7,215.8 2454.4,101.8 2455.0,4.1 2455.6,-21.6 2456.3,41.1 2456.9,153.2 2457.6,258.0 2458.2,317.1 2458.8,257.8 2459.5,183.4 2460.1,126.7 2460.8,121.1 2461.4,170.2 2462.0,244.3 2462.7,308.0 2463.3,346.2 2464.0,363.2 2464.6,356.4 2465.2,338.2 2465.9,312.6 2466.5,288.6 2467.2,279.6 2467.8,291.3 2468.4,315.9 2469.1,340.3 2469.7,356.4 2470.4,364.0 2471.0,366.6 2471.6,366.1 2472.3,365.1 2472.9,363.9 2473.6,362.6 2474.2,361.6 2474.8,361.1 2475.5,360.5 2476.1,360.0 2476.8,359.4 2477.4,360.0 2478.0,360.5 2478.7,360.8 2479.3,361.0 2480.0,361.3 2480.6,361.2 2481.2,359.5 2481.9,352.2 2482.5,329.0 2483.2,274.7 2483.8,181.1 2484.4,68.1 2485.1,-12.6 2485.7,-12.5 2486.4,68.8 2487.0,182.6 2487.6,277.1 2488.3,332.2 2488.9,356.2 2489.6,364.3 2490.2,365.4 2490.8,360.4 2491.5,346.0 2492.1,313.6 2492.8,259.6 2493.4,197.0 2494.0,155.3 2494.7,160.0 2495.3,207.9 2496.0,270.6 2496.6,320.7 2497.2,348.9 2497.9,360.7 2498.5,363.2 2499.2,356.4 2499.8,336.5 2500.4,288.6 2501.1,201.8 2501.7,89.2 2502.4,-2.0 2503.0,-19.4 2503.6,47.9 2504.3,158.1 2504.9,256.7 2505.6,317.4 2506.2,344.7 2506.8,354.2 2507.5,357.6 2508.1,359.0 2508.8,359.9 2509.4,360.8 2510.0,361.2 2510.7,359.1 2511.3,352.5 2512.0,335.4 2512.6,301.6 2513.2,253.1 2513.9,207.0 2514.5,188.8 2515.2,209.8 2515.8,256.8 2516.4,304.7 2517.1,337.4 2517.7,353.6 2518.4,357.1 2519.0,344.2 2519.6,307.9 2520.3,233.8 2520.9,125.5 2521.6,21.1 2522.2,-22.7 2522.8,21.8 2523.5,127.3 2524.1,236.5 2524.8,311.6 2525.4,348.9 2526.0,362.9 2526.7,367.2 2527.3,367.5 2528.0,366.4 2528.6,365.1 2529.2,363.8 2529.9,362.5 2530.5,361.1 2531.2,359.9 2531.8,359.7 2532.4,359.5 2533.1,359.1 2533.7,357.8 2534.4,354.1 2535.0,343.2 2535.6,318.9 2536.3,280.2 2536.9,238.8 2537.6,216.0 2538.2,225.9 2538.8,261.6 2539.5,303.4 2540.1,334.2 2540.8,350.0 2541.4,326.5 2542.0,272.7 2542.7,181.5 2543.3,69.8 2544.0,-11.6 2544.6,-13.7 2545.2,65.3 2545.9,178.1 2546.5,271.9 2547.2,326.6 2547.8,349.9 2548.4,357.1 2549.1,359.0 2549.7,359.5 2550.4,360.2 2551.0,361.3 2551.6,362.4 2552.3,363.5 2552.9,363.8 2553.6,363.7 2554.2,363.5 2554.8,363.2 2555.5,362.9 2556.1,362.6 2556.8,362.2 2557.4,361.9 2558.0,361.5 2558.7,361.2 2559.3,360.1 2560.0,356.5 2560.6,347.7 2561.2,331.3 2561.9,309.5 2562.5,291.0 2563.2,286.3 2563.8,298.3 2564.4,319.3 2565.1,338.6 2565.7,350.7 2566.4,346.8 2567.0,327.6 2567.6,294.8 2568.3,256.0 2568.9,229.9 2569.6,232.4 2570.2,262.2 2570.8,301.5 2571.5,333.2 2572.1,351.2 2572.8,358.7 2573.4,361.0 2574.0,361.2 2574.7,360.6 2575.3,360.0 2576.0,359.4 2576.6,358.7 2577.2,358.1 2577.9,357.9 2578.5,359.3 2579.2,360.7 2579.8,362.1 2580.4,363.6 2581.1,365.0 2581.7,366.5 2582.4,367.1 2583.0,367.1 2583.6,367.1 2584.3,367.2 2584.9,367.2 2585.6,367.0 2586.2,366.1 2586.8,365.6 2587.5,364.1 2588.1,361.1 2588.8,356.7 2589.4,352.7 2590.0,351.2 2590.7,353.2 2591.3,357.5 2592.0,361.8 2592.6,364.7 2593.2,362.0 2593.9,353.1 2594.5,335.8 2595.2,312.7 2595.8,292.8 2596.4,287.1 2597.1,298.9 2597.7,320.6 2598.4,341.4 2599.0,355.1 2599.6,361.8 2600.3,364.5 2600.9,365.6 2601.6,366.7 2602.2,367.5 2602.8,367.5 2603.5,367.6 2604.1,367.6 2604.8,367.6 2605.4,367.7 2606.0,367.7 2606.7,367.4 2607.3,367.2 2608.0,366.9 2608.6,366.6 2609.2,365.9 2609.9,364.4 2610.5,363.6 2611.2,363.0 2611.8,362.3 2612.4,361.7 2613.1,361.0 2613.7,360.4 2614.4,360.2 2615.0,360.4 2615.6,360.6 2616.3,360.7 2616.9,361.4 2617.6,362.2 2618.2,361.9 2618.8,359.2 2619.5,353.0 2620.1,343.2 2620.8,333.0 2621.4,327.8 2622.0,331.1 2622.7,339.9 2623.3,350.0 2624.0,350.8 2624.6,336.7 2625.2,319.8 2625.9,307.5 2626.5,306.8 2627.2,317.6 2627.8,333.0 2628.4,345.7 2629.1,352.7 2629.7,355.4 2630.4,356.5 2631.0,357.4 2631.6,358.1 2632.3,358.8 2632.9,359.4 2633.6,360.1 2634.2,360.5 2634.8,360.6 2635.5,360.6 2636.1,360.7 2636.8,360.7 2637.4,360.8 2638.0,360.8 2638.7,360.7 2639.3,360.5 2640.0,360.4 2640.6,359.8 2641.2,359.1 2641.9,358.5 2642.5,358.5 2643.2,358.6 2643.8,358.8 2644.4,358.9 2645.1,359.1 2645.7,359.2 2646.4,358.9 2647.0,358.2 2647.6,357.5 2648.3,357.0 2648.9,356.5 2649.6,355.7 2650.2,354.1 2650.8,350.5 2651.5,343.5 2652.1,333.5 2652.8,323.9 2653.4,319.6 2654.0,323.3 2654.7,332.7 2655.3,342.5 2656.0,346.0 2656.6,336.0 2657.2,322.4 2657.9,310.5 2658.5,307.0 2659.2,314.2 2659.8,327.5 2660.4,340.1 2661.1,348.3 2661.7,352.0 2662.4,353.5 2663.0,354.1 2663.6,354.4 2664.3,354.7 2664.9,354.9 2665.6,355.1 2666.2,355.1 2666.8,354.5 2667.5,353.4 2668.1,351.3 2668.8,347.3 2669.4,341.3 2670.0,335.1 2670.7,332.2 2671.3,333.9 2672.0,339.3 2672.6,345.4 2673.2,349.9 2673.9,352.4 2674.5,352.8 2675.2,352.4 2675.8,351.8 2676.4,351.1 2677.1,350.7 2677.7,350.4 2678.4,350.1 2679.0,349.9 2679.6,349.7 2680.3,349.5 2680.9,349.3 2681.6,349.1 2682.2,349.4 2682.8,350.2 2683.5,350.7 2684.1,351.2 2684.8,351.7 2685.4,351.9 2686.0,351.6 2686.7,349.1 2687.3,343.9 2688.0,335.8 2688.6,326.9 2689.2,321.7 2689.9,323.4 2690.5,329.9 2691.2,337.6 2691.8,340.0 2692.4,330.0 2693.1,318.3 2693.7,310.0 2694.4,309.5 2695.0,316.5 2695.6,326.1 2696.3,333.7 2696.9,337.7 2697.6,338.9 2698.2,338.9 2698.8,338.8 2699.5,338.6 2700.1,338.4 2700.8,338.1"/>
<rect x="375" y="516" width="2325" height="6" fill="#0000ff" stroke="none" shape-rendering="crispEdges"/>
<polyline stroke="#000" stroke-width="5.00" points="375.5,435.9 376.9,507.4 378.8,502.7 380.7,443.2 382.4,497.7 384.6,490.3 386.5,501.2 388.4,512.3 390.2,635.0 392.5,261.0 394.2,523.4 396.1,508.7 398.0,511.6 400.3,309.4 401.8,412.9 403.7,459.3 404.9,287.3 407.6,403.5 409.5,452.6 410.7,559.5 413.3,433.8 415.8,766.9 417.2,496.4 419.1,432.1 420.4,329.9 422.9,475.6 425.5,290.2 426.7,426.9 428.2,534.4 430.6,351.8 432.5,384.2 435.2,233.1 436.3,444.9 438.2,410.8 440.1,424.3 442.9,675.9 444.0,415.4 445.9,378.6 447.8,364.6 448.8,577.0 451.6,447.4 453.6,457.4 455.5,462.5 457.3,283.1 459.3,492.4 462.0,237.6 463.1,377.0 465.1,389.0 466.2,301.5 468.9,492.2 471.7,258.1 472.7,520.7 474.0,538.2 476.7,356.2 478.5,365.2 480.4,387.6 482.5,314.0 484.2,466.4 486.1,431.5 488.0,375.2 490.0,438.7 491.0,612.0 493.8,429.9 495.7,444.0 497.3,254.3 499.5,500.0 501.1,551.9 503.4,441.5 505.8,276.5 507.2,386.1 508.9,338.7 511.0,411.5 513.0,426.0 515.5,356.2 517.4,617.9 518.7,433.2 520.6,489.6 522.1,637.1 525.2,333.6 526.4,498.9 528.3,509.9 529.8,330.7 533.0,555.7 534.0,352.3 536.1,233.1 537.9,480.8 539.8,433.8 541.7,416.5 543.6,443.8 545.4,301.1 547.7,559.5 549.4,421.4 551.3,484.0 553.2,463.5 554.3,180.9 557.0,489.2 558.9,461.9 560.1,553.6 562.8,404.9 564.7,414.3 565.9,274.8 568.5,472.9 569.8,666.3 572.5,279.4 574.3,522.8 576.2,483.0 577.6,257.3 580.0,468.2 581.4,537.3 583.8,449.5 585.3,359.1 587.7,417.2 589.6,449.0 591.5,491.6 593.9,541.9 595.3,352.2 597.0,343.7 599.2,459.6 601.1,471.7 603.0,474.6 604.9,415.9 606.8,452.4 607.8,640.8 610.7,495.2 612.6,509.1 614.5,495.1 616.4,618.7 618.3,412.6 620.2,269.4 622.2,438.2 624.1,482.4 626.0,481.3 627.2,258.9 629.2,563.2 631.7,468.5 633.8,629.6 635.4,208.0 637.5,478.9 638.5,538.6 641.3,466.3 642.7,241.4 645.2,423.2 647.1,396.4 649.0,493.8 650.9,490.9 653.2,231.8 654.7,521.5 656.7,442.4 659.0,306.5 660.5,459.6 662.1,241.4 664.3,456.3 666.2,477.5 668.7,617.9 670.1,526.3 672.0,509.9 673.9,441.1 675.8,467.8 677.3,681.8 679.6,478.4 681.6,498.0 683.5,492.6 685.4,145.8 687.3,482.2 689.2,485.1 691.1,464.3 692.8,546.1 695.0,436.4 696.9,463.5 698.8,507.6 700.7,518.5 702.6,451.3 704.6,436.0 706.4,541.9 708.4,450.8 710.3,434.5 712.2,429.2 713.4,667.6 716.0,463.7 718.0,600.4 719.9,490.7 721.8,456.5 723.7,439.8 725.8,584.1 728.1,286.1 729.5,419.6 732.0,528.6 733.3,528.9 735.2,483.6 737.1,502.4 739.0,479.1 740.5,272.7 742.9,520.8 744.8,510.1 746.7,484.6 748.6,460.7 750.2,344.1 752.5,472.0 754.1,588.7 756.3,516.7 758.2,498.7 759.9,333.6 762.0,515.5 763.9,443.6 765.7,660.5 767.8,434.6 769.7,493.0 771.6,507.8 773.6,331.6 775.4,498.3 776.7,528.6 779.3,466.8 781.2,424.0 782.5,381.6 785.0,350.0 787.2,531.5 788.9,416.2 790.8,427.0 792.7,465.1 794.6,519.1 796.1,346.6 798.4,409.3 800.4,425.9 801.5,563.2 803.8,369.1 806.1,384.8 808.0,457.6 809.9,497.6 811.8,503.3 813.2,208.0 815.7,455.1 818.2,360.8 819.5,381.2 820.9,519.4 823.2,274.8 825.3,485.0 827.2,394.4 829.1,598.3 831.8,311.5 832.9,436.9 834.8,420.5 836.8,294.0 838.7,391.0 840.6,433.6 843.4,318.2 844.4,441.3 846.3,444.1 848.3,416.9 850.2,484.1 852.3,316.1 854.0,463.4 855.9,471.3 857.8,348.3 859.7,348.6 860.9,574.9 863.6,400.8 865.5,451.5 867.9,344.5 869.3,472.4 871.2,437.2 872.5,498.5 875.1,494.4 877.2,215.5 878.9,430.1 880.8,375.4 882.7,398.2 884.2,317.4 886.6,371.3 888.5,445.9 891.1,243.5 892.3,505.9 894.2,374.3 896.2,347.3 897.7,628.3 900.0,385.0 901.9,415.6 904.7,290.2 905.7,449.5 908.6,584.1 909.6,411.3 911.5,352.5 912.5,244.3 915.3,440.1 917.2,476.5 919.1,450.3 920.2,291.9 923.0,384.1 924.1,540.3 926.8,472.6 928.7,498.4 930.7,276.5 932.6,404.3 935.4,332.8 936.4,458.8 938.3,452.2 940.2,464.7 942.1,518.4 943.5,352.4 946.0,469.9 947.9,423.1 949.8,449.2 951.7,396.4 952.8,279.4 955.5,436.4 957.5,468.0 959.4,440.3 961.3,452.2 962.9,285.6 965.1,398.3 967.0,353.4 969.0,419.6 970.9,468.6 972.2,233.9 974.7,463.6 976.6,511.4 978.5,491.2 979.6,197.2 982.4,440.5 985.0,344.1 986.2,352.0 988.1,387.8 990.0,372.8 991.6,530.2 993.9,425.1 995.8,491.6 998.6,348.3 999.6,434.0 1001.5,352.9 1003.6,248.1 1005.4,480.6 1007.3,502.7 1009.2,472.9 1010.2,577.0 1013.0,335.7 1014.9,426.9 1017.6,236.4 1018.8,448.0 1020.7,442.0 1021.9,317.4 1024.5,429.2 1026.4,384.2 1028.4,358.5 1029.6,559.5 1032.2,452.9 1034.1,511.4 1036.0,483.0 1037.8,564.5 1039.9,517.9 1041.8,412.5 1043.2,531.9 1045.9,311.5 1047.5,515.4 1049.4,496.0 1051.3,465.7 1052.9,301.5 1055.2,365.0 1056.8,576.1 1059.0,489.4 1060.9,507.3 1062.8,465.7 1064.8,468.3 1067.3,335.7 1068.6,471.4 1070.5,472.0 1072.4,388.5 1073.5,236.8 1076.3,378.3 1078.2,433.9 1080.1,515.2 1082.0,444.0 1083.9,465.6 1086.7,278.5 1087.8,515.0 1089.7,514.3 1092.5,527.7 1093.5,431.9 1095.4,417.0 1097.3,419.5 1099.2,514.7 1101.2,499.8 1103.1,439.6 1104.5,571.1 1106.9,433.2 1109.2,344.1 1110.7,434.1 1112.7,505.1 1113.8,628.7 1116.5,413.2 1118.4,436.3 1120.3,495.0 1122.8,288.1 1124.2,370.8 1126.1,375.0 1128.0,440.5 1129.9,474.7 1132.5,339.9 1133.7,355.1 1135.7,382.4 1138.3,601.2 1139.5,442.1 1141.4,469.2 1143.3,518.1 1146.0,275.6 1147.1,422.9 1149.1,462.9 1151.0,407.5 1153.0,563.2 1154.8,484.9 1156.7,481.2 1158.5,374.5 1160.6,456.1 1162.5,472.2 1164.4,482.8 1165.5,607.5 1168.2,500.2 1169.4,337.8 1172.1,448.9 1174.0,429.2 1175.2,326.1 1178.3,513.1 1179.7,477.7 1181.6,474.0 1184.1,368.7 1185.5,428.9 1187.4,401.0 1189.3,444.3 1191.2,438.7 1193.8,520.6 1195.8,370.8 1197.0,430.2 1198.9,430.4 1200.8,420.7 1203.5,372.5 1204.6,482.0 1206.5,457.2 1208.5,427.9 1210.4,416.0 1212.1,613.7 1214.2,475.8 1215.2,400.0 1218.0,454.6 1219.8,532.3 1221.9,518.4 1224.5,376.6 1225.7,422.0 1227.6,497.0 1229.5,380.4 1231.5,498.1 1233.4,488.1 1235.4,325.3 1237.2,475.0 1238.5,580.7 1241.0,438.4 1243.1,328.2 1244.9,447.5 1246.8,488.3 1248.2,296.9 1250.6,500.4 1252.5,400.4 1254.4,425.0 1256.4,434.5 1258.3,436.0 1260.2,432.5 1262.5,357.0 1264.0,383.3 1265.2,499.3 1267.9,516.5 1269.8,516.6 1271.7,493.7 1273.4,377.1 1276.1,513.1 1277.4,483.2 1279.4,508.0 1281.3,455.6 1283.1,561.5 1283.9,415.0 1287.7,532.3 1288.9,461.5 1290.8,430.1 1292.8,471.7 1295.5,530.2 1296.6,512.8 1298.5,477.7 1300.4,391.9 1302.3,397.6 1304.4,579.9 1306.2,502.9 1308.1,515.2 1310.2,395.8 1311.9,448.9 1313.8,445.8 1315.8,459.8 1317.7,484.0 1319.6,457.3 1321.5,424.6 1323.4,369.8 1325.3,375.8 1326.5,367.9 1329.6,518.1 1331.1,461.5 1333.0,474.0 1334.9,477.3 1336.8,466.2 1338.2,555.7 1340.7,432.8 1342.0,394.2 1344.5,434.7 1347.1,359.1 1348.3,482.3 1350.2,488.7 1352.2,469.3 1354.8,273.5 1356.0,439.8 1357.9,455.7 1359.8,490.6 1361.4,353.3 1363.7,498.4 1365.6,486.2 1367.3,524.8 1369.4,519.0 1371.3,462.8 1373.1,378.7 1375.2,449.8 1377.1,463.5 1379.0,473.0 1380.9,485.6 1382.0,546.9 1384.7,464.4 1386.6,460.2 1388.6,480.7 1389.8,406.7 1392.4,434.5 1394.3,448.8 1396.2,451.9 1398.1,447.5 1400.1,488.5 1401.4,343.7 1403.9,421.9 1405.8,421.3 1408.0,400.0 1409.6,462.1 1411.6,449.4 1412.7,550.7 1415.4,413.9 1417.3,446.2 1419.3,574.9 1421.1,423.9 1423.1,376.7 1424.7,334.9 1426.9,437.4 1428.8,481.7 1430.1,346.6 1433.2,522.7 1434.5,513.3 1436.5,480.9 1437.9,337.8 1440.3,515.8 1442.2,465.2 1444.1,406.9 1446.0,343.7 1448.0,409.8 1449.5,537.3 1452.6,359.9 1453.7,425.5 1455.6,466.8 1457.5,499.3 1460.4,392.1 1461.4,429.0 1463.3,418.0 1465.2,417.6 1467.1,411.7 1469.3,635.0 1471.0,441.7 1472.9,405.6 1473.9,586.6 1476.7,386.8 1478.6,414.5 1480.5,441.4 1482.4,445.0 1484.4,494.3 1485.6,528.6 1488.2,441.6 1490.1,432.3 1491.4,386.2 1493.9,504.4 1495.9,484.8 1497.8,481.3 1499.7,510.9 1501.1,536.5 1503.5,471.0 1505.4,407.9 1507.4,422.2 1508.9,374.5 1510.8,546.1 1513.1,449.6 1515.9,572.4 1516.9,473.5 1518.9,413.1 1520.8,384.0 1523.2,368.7 1524.6,370.3 1526.5,407.6 1528.4,414.9 1530.3,420.1 1531.4,382.5 1533.3,520.6 1536.1,404.8 1538.0,401.2 1539.9,450.8 1541.8,468.6 1543.8,447.1 1545.7,421.5 1547.7,368.7 1549.5,431.5 1551.4,486.3 1553.3,488.3 1555.5,532.3 1557.2,433.7 1558.6,413.4 1561.0,517.6 1562.9,513.8 1565.2,526.5 1566.8,505.6 1569.5,333.2 1570.6,447.0 1572.5,435.4 1574.9,556.9 1577.2,384.6 1578.2,442.6 1580.2,452.5 1581.9,549.0 1584.0,496.9 1585.9,506.2 1588.5,394.2 1589.7,482.5 1591.7,452.4 1593.6,463.9 1595.5,496.0 1597.4,481.6 1599.0,546.9 1602.1,408.8 1603.2,484.2 1605.1,475.2 1607.0,406.3 1609.8,528.6 1610.8,416.9 1612.7,438.3 1614.7,441.7 1616.6,417.4 1618.5,466.5 1620.4,500.9 1622.3,402.5 1624.2,464.3 1626.1,512.2 1628.1,516.1 1630.0,511.0 1631.9,474.5 1633.8,489.0 1635.7,478.3 1637.6,450.9 1639.6,439.1 1641.6,382.5 1643.4,448.4 1645.3,477.4 1646.7,312.4 1649.1,466.0 1651.1,408.6 1652.5,367.0 1655.6,308.6 1656.8,461.6 1658.7,441.1 1660.6,435.3 1662.2,405.4 1664.2,530.2 1666.4,430.6 1668.3,374.5 1670.2,368.0 1672.7,594.5 1674.0,383.3 1676.0,365.5 1677.9,421.1 1680.4,374.5 1681.7,389.3 1683.6,393.3 1685.5,409.7 1687.5,419.2 1689.4,368.9 1691.3,373.3 1693.2,383.5 1695.1,429.2 1696.4,626.7 1699.0,442.0 1700.2,584.9 1702.8,413.8 1704.1,355.3 1706.6,462.4 1708.5,499.3 1710.5,456.1 1711.5,549.0 1714.3,467.2 1716.2,470.3 1717.3,355.3 1719.6,577.0 1721.9,418.8 1724.3,535.2 1725.8,365.0 1727.7,370.0 1729.3,349.5 1731.5,515.3 1733.4,511.0 1735.4,501.8 1737.1,403.8 1739.2,468.4 1741.1,507.3 1743.0,471.4 1744.5,535.2 1746.9,448.0 1748.7,308.6 1750.7,451.7 1752.6,452.0 1754.5,468.0 1756.1,398.8 1758.4,507.9 1760.3,435.6 1762.2,374.7 1765.0,549.9 1766.0,370.5 1767.9,400.6 1768.9,553.6 1772.0,378.7 1773.7,422.0 1775.6,444.0 1777.8,344.5 1779.4,444.3 1781.3,454.8 1783.3,461.5 1785.2,483.2 1787.1,435.9 1789.0,367.4 1791.4,296.9 1792.8,438.8 1794.8,412.7 1796.8,535.2 1798.6,471.9 1800.5,447.9 1802.4,403.8 1804.3,413.4 1805.4,547.8 1808.2,387.7 1810.1,441.8 1812.0,449.4 1813.9,438.3 1815.5,361.2 1817.7,500.6 1819.0,573.2 1821.6,459.1 1824.0,355.3 1825.4,389.7 1827.5,621.6 1829.2,468.1 1831.2,435.3 1833.7,382.5 1835.0,460.2 1836.9,441.4 1838.8,494.2 1840.7,566.1 1842.7,501.4 1844.5,318.2 1846.5,478.1 1848.4,429.5 1849.6,582.8 1852.2,379.2 1854.2,445.9 1856.1,508.4 1857.4,538.2 1859.9,500.4 1861.8,491.7 1863.2,372.5 1865.6,484.1 1867.6,511.8 1869.4,604.1 1871.4,430.4 1873.3,425.2 1875.2,422.1 1877.1,412.9 1879.5,559.9 1881.0,386.5 1882.9,401.5 1885.3,386.2 1886.7,438.3 1888.6,490.2 1891.1,332.0 1892.5,450.3 1894.4,452.6 1896.3,465.5 1898.2,396.3 1900.1,432.0 1902.8,409.6 1904.0,517.5 1905.9,475.5 1907.8,457.5 1909.7,467.0 1911.7,236.8 1913.5,456.0 1915.5,437.6 1917.4,459.7 1919.3,436.0 1921.2,370.7 1923.1,380.8 1925.0,449.1 1927.0,480.0 1928.7,289.4 1930.8,438.2 1933.0,541.1 1934.6,474.4 1935.7,292.3 1938.5,490.9 1940.4,497.2 1942.3,501.1 1944.2,506.4 1946.1,514.8 1947.5,428.8 1950.6,524.8 1951.9,471.3 1953.8,515.6 1955.7,472.4 1957.6,413.8 1959.1,269.8 1961.4,449.8 1962.6,541.9 1965.3,440.9 1968.0,334.1 1969.1,503.4 1971.0,470.1 1972.9,399.9 1974.9,403.8 1976.8,405.2 1978.5,405.4 1980.6,425.2 1983.2,541.1 1984.4,426.2 1986.3,409.6 1988.3,393.5 1990.2,454.0 1992.1,450.8 1993.2,240.6 1995.9,407.3 1997.9,471.6 1999.1,329.9 2001.7,480.0 2003.6,449.9 2005.5,427.3 2007.4,396.0 2009.5,376.6 2011.3,428.8 2012.6,603.3 2015.1,405.2 2016.1,211.8 2018.9,392.3 2020.8,427.0 2023.1,428.8 2025.4,522.7 2026.6,461.4 2028.5,458.9 2030.9,413.4 2032.3,424.9 2034.3,453.2 2036.2,449.3 2037.5,532.3 2040.0,453.4 2041.9,469.6 2043.8,493.0 2045.8,457.2 2048.3,341.6 2049.6,477.9 2051.5,465.3 2053.4,447.2 2056.1,359.1 2057.2,472.7 2059.2,473.2 2060.7,534.4 2063.9,370.8 2064.9,395.8 2066.6,367.0 2068.7,429.9 2071.6,380.4 2072.6,432.0 2074.5,417.6 2076.7,394.2 2078.3,435.5 2080.2,428.7 2082.5,355.3 2084.1,441.4 2086.0,473.4 2087.1,397.9 2089.8,433.9 2091.7,448.2 2093.7,456.1 2095.6,502.4 2097.5,525.7 2099.4,459.4 2101.5,602.0 2103.2,461.0 2105.1,461.7 2106.5,538.2 2109.0,491.0 2110.9,508.6 2112.4,531.5 2114.7,463.0 2116.6,497.9 2119.3,425.1 2120.5,499.8 2122.4,507.3 2124.3,457.7 2125.9,400.8 2128.1,524.4 2130.1,495.7 2132.0,445.2 2133.7,407.5 2135.8,476.0 2137.7,465.6 2139.6,462.3 2141.6,488.9 2143.5,477.7 2145.3,419.2 2147.3,502.9 2149.2,559.5 2151.1,484.6 2153.0,486.0 2155.0,563.6 2156.9,487.8 2158.8,449.0 2160.7,451.9 2162.0,637.1 2164.5,426.4 2166.5,424.2 2168.4,419.2 2170.3,471.8 2171.3,428.8 2174.4,549.9 2176.0,420.8 2178.3,346.6 2179.9,531.5 2182.2,588.3 2183.7,462.5 2185.3,575.3 2187.5,448.8 2190.0,397.9 2191.4,459.2 2193.3,455.2 2195.2,464.7 2197.1,473.7 2199.0,532.6 2200.9,496.4 2202.4,577.0 2205.5,411.7 2206.7,486.7 2208.6,374.5 2210.5,489.2 2212.4,516.0 2214.0,612.0 2217.1,563.6 2218.2,492.7 2220.1,453.6 2221.8,405.4 2223.9,460.2 2225.9,447.3 2227.8,467.9 2229.5,666.3 2231.6,450.4 2232.6,392.1 2235.4,480.7 2237.4,492.3 2239.2,409.6 2241.2,488.5 2243.1,495.6 2245.0,769.0 2246.9,475.8 2248.8,477.8 2250.8,496.2 2252.0,675.9 2254.6,466.5 2256.5,464.2 2258.4,413.8 2260.3,422.5 2262.9,426.7 2264.2,434.9 2265.6,569.5 2268.0,493.3 2269.9,468.7 2271.8,471.5 2273.8,480.5 2275.7,508.7 2277.6,531.7 2280.3,584.9 2281.4,528.8 2283.3,501.6 2286.2,568.6 2287.2,512.7 2289.1,492.0 2291.0,490.3 2292.9,532.3 2293.9,378.7 2296.6,547.8 2298.7,519.3 2300.6,516.6 2302.5,450.5 2304.4,487.6 2306.3,484.4 2308.2,512.9 2309.4,672.2 2312.1,486.2 2313.9,504.4 2315.8,549.9 2316.0,549.9 2318.5,461.4 2321.1,623.7 2323.6,501.7 2324.7,416.7 2324.9,426.7 2328.8,580.7 2330.2,581.6 2333.2,443.6 2335.2,555.7 2337.0,500.1 2338.9,457.7 2339.9,288.1 2342.7,511.9 2344.9,405.0 2346.6,524.6 2348.0,301.9 2350.4,425.5 2351.9,214.3 2354.6,639.2 2356.1,523.8 2358.5,681.8 2360.0,460.2 2361.9,501.2 2363.2,251.4 2365.7,447.3 2367.6,444.4 2369.0,415.0 2371.5,535.2 2373.4,527.9 2374.8,319.0 2377.2,527.9 2379.1,761.5 2381.1,484.6 2383.0,446.6 2384.9,465.5 2386.8,430.5 2388.7,490.3 2390.6,449.5 2392.3,407.1 2394.6,544.0 2396.1,381.2 2398.3,511.8 2400.2,516.7 2401.2,588.3 2403.9,409.2 2406.0,531.4 2407.9,504.3 2409.8,487.6 2410.9,600.4 2413.6,354.1 2415.5,470.1 2416.7,596.2 2419.4,535.5 2421.3,511.5 2422.5,312.8 2425.1,480.7 2427.0,481.4 2429.0,512.8 2430.3,709.3 2433.4,412.9 2434.7,465.4 2436.9,380.4 2438.5,422.7 2441.1,422.5 2442.4,493.3 2444.3,455.3 2446.2,427.2 2448.9,385.8 2450.0,464.1 2452.8,541.9 2453.9,501.5 2455.5,373.3 2457.7,491.1 2459.4,705.5 2460.5,424.6 2463.4,511.5 2465.2,672.2 2467.3,505.4 2468.3,461.4 2471.1,483.2 2472.2,409.2 2473.7,526.5 2476.1,138.7 2478.8,461.3 2480.7,474.7 2481.9,356.2 2484.6,631.2 2486.4,470.5 2488.3,490.0 2490.3,448.8 2492.2,472.4 2494.1,508.2 2495.5,482.7 2497.0,592.4 2500.1,637.9 2501.8,488.3 2503.2,299.8 2505.9,615.8 2507.5,519.4 2509.8,401.3 2511.3,527.8 2513.3,491.8 2514.5,284.4 2517.1,462.9 2519.0,521.8 2520.3,443.8 2521.4,541.1 2523.4,287.3 2527.3,378.7 2528.6,417.9 2530.5,435.1 2533.1,612.0 2534.3,455.2 2536.2,471.0 2538.2,464.0 2540.1,504.0 2541.6,676.7 2544.3,213.9 2545.8,510.3 2547.7,490.4 2550.5,534.4 2552.5,369.1 2553.5,481.8 2555.4,493.9 2557.5,467.2 2559.2,457.0 2560.2,551.9 2563.1,493.6 2564.9,309.4 2566.9,528.7 2568.8,521.9 2570.7,475.0 2572.7,485.0 2574.6,515.2 2575.8,432.1 2577.7,557.8 2580.0,436.3 2582.2,497.0 2583.5,657.5 2586.1,528.2 2588.0,519.6 2589.9,468.9 2590.9,286.1 2593.7,512.3 2595.6,483.3 2597.1,399.2 2599.5,510.3 2601.0,405.0 2602.9,656.7 2605.2,504.2 2607.1,533.4 2609.1,515.8 2610.7,455.5 2612.9,504.3 2614.6,577.0 2616.7,449.4 2617.7,453.9 2620.6,475.1 2622.5,444.2 2625.0,594.5 2626.3,417.8 2628.2,427.3 2630.1,471.1 2631.2,451.8 2634.0,472.8 2635.1,622.9 2637.8,495.3 2639.7,500.6 2641.6,517.5 2642.9,385.4 2645.5,527.1 2647.5,373.3 2649.3,444.3 2651.4,584.1 2653.1,475.0 2654.5,432.1 2657.0,504.2 2658.9,480.7 2660.8,477.4 2662.7,446.6 2665.0,461.4 2666.5,479.8 2668.5,536.0 2670.8,465.5 2672.0,579.1 2674.2,519.4 2676.1,454.4 2678.0,477.4 2680.5,461.4 2681.9,464.9 2683.8,441.9 2685.7,486.0 2687.5,346.2 2689.5,495.8 2691.4,469.7 2693.3,567.4 2694.9,494.3 2697.0,584.1 2698.6,498.5 2700.5,569.5"/>
</g>
<g fill="#000" shape-rendering="crispEdges"><rect x="360" y="769" width="15" height="3"/><rect x="360" y="685" width="15" height="3"/><rect x="360" y="602" width="15" height="3"/><rect x="360" y="518" width="15" height="3"/><rect x="360" y="435" width="15" height="3"/><rect x="360" y="351" width="15" height="3"/><rect x="360" y="267" width="15" height="3"/><rect x="360" y="184" width="15" height="3"/><rect x="502" y="801" width="3" height="15"/><rect x="1013" y="801" width="3" height="15"/><rect x="1524" y="801" width="3" height="15"/><rect x="2035" y="801" width="3" height="15"/><rect x="2546" y="801" width="3" height="15"/><rect x="374" y="107" width="3" height="696"/><rect x="2699" y="107" width="3" height="696"/><rect x="374" y="107" width="2328" height="3"/><rect x="374" y="800" width="2328" height="3"/></g>
<g transform="scale(4.166667)"><g id="figure_1">
<g id="axes_1">
<g id="matplotlib.axis_1">
<g id="xtick_1">
<g id="line2d_1"/>
<g id="text_1">
<text style="font-size: 7px; font-family: 'DejaVu Sans', sans-serif; text-anchor: middle" x="120.816" y="204.558" transform="rotate(-0 120.816 204.558)">5000</text>
</g>
</g>
<g id="xtick_2">
<g id="line2d_2"/>
<g id="text_2">
<text style="font-size: 7px; font-family: 'DejaVu Sans', sans-serif; text-anchor: middle" x="243.456" y="204.558" transform="rotate(-0 243.456 204.558)">6000</text>
</g>
</g>
<g id="xtick_3">
<g id="line2d_3"/>
<g id="text_3">
<text style="font-size: 7px; font-family: 'DejaVu Sans', sans-serif; text-anchor: middle" x="366.096" y="204.558" transform="rotate(-0 366.096 204.558)">7000</text>
</g>
</g>
<g id="xtick_4">
<g id="line2d_4"/>
<g id="text_4">
<text style="font-size: 7px; font-family: 'DejaVu Sans', sans-serif; text-anchor: middle" x="488.736" y="204.558" transform="rotate(-0 488.736 204.558)">8000</text>
</g>
</g>
<g id="xtick_5">
<g id="line2d_5"/>
<g id="text_5">
<text style="font-size: 7px; font-family: 'DejaVu Sans', sans-serif; text-anchor: middle" x="611.376" y="204.558" transform="rotate(-0 611.376 204.558)">9000</text>
</g>
</g>
<g id="text_6">
<text style="font-size: 8px; font-family: 'DejaVu Sans', sans-serif; text-anchor: middle" x="369" y="213.333" transform="rotate(-0 369 213.333)">Wavelength</text>
</g>
</g>
<g id="matplotlib.axis_2">
<g id="ytick_1">
<g id="line2d_6"/>
<g id="text_7">
<text style="font-size: 9px; font-family: 'DejaVu Sans', sans-serif; text-anchor: end" x="83" y="188.176" transform="rotate(-0 83 188.176)">−0.6</text>
</g>
</g>
<g id="ytick_2">
<g id="line2d_7"/>
<g id="text_8">
<text style="font-size: 9px; font-family: 'DejaVu Sans', sans-serif; text-anchor: end" x="83" y="168.141" transform="rotate(-0 83 168.141)">−0.4</text>
</g>
</g>
<g id="ytick_3">
<g id="line2d_8"/>
<g id="text_9">
<text style="font-size: 9px; font-family: 'DejaVu Sans', sans-serif; text-anchor: end" x="83" y="148.106" transform="rotate(-0 83 148.106)">−0.2</text>
</g>
</g>
<g id="ytick_4">
<g id="line2d_9"/>
<g id="text_10">
<text style="font-size: 9px; font-family: 'DejaVu Sans', sans-serif; text-anchor: end" x="83" y="128.071" transform="rotate(-0 83 128.071)">0.0</text>
</g>
</g>
<g id="ytick_5">
<g id="line2d_10"/>
<g id="text_11">
<text style="font-size: 9px; font-family: 'DejaVu Sans', sans-serif; text-anchor: end" x="83" y="108.036" transform="rotate(-0 83 108.036)">0.2</text>
</g>
</g>
<g id="ytick_6">
<g id="line2d_11"/>
<g id="text_12">
<text style="font-size: 9px; font-family: 'DejaVu Sans', sans-serif; text-anchor: end" x="83" y="88.001" transform="rotate(-0 83 88.001)">0.4</text>
</g>
</g>
<g id="ytick_7">
<g id="line2d_12"/>
<g id="text_13">
<text style="font-size: 9px; font-family: 'DejaVu Sans', sans-serif; text-anchor: end" x="83" y="67.966" transform="rotate(-0 83 67.966)">0.6</text>
</g>
</g>
<g id="ytick_8">
<g id="line2d_13"/>
<g id="text_14">
<text style="font-size: 9px; font-family: 'DejaVu Sans', sans-serif; text-anchor: end" x="83" y="47.931" transform="rotate(-0 83 47.931)">0.8</text>
</g>
</g>
<g id="text_15">
<g transform="translate(54.835 171.505) rotate(-90)">
<text>
<tspan x="0" y="-0.796" style="font-size: 11px; font-family: 'DejaVu Sans', sans-serif">1</tspan>
<tspan x="6.998" y="-0.796" style="font-size: 11px; font-family: 'DejaVu Sans', sans-serif">0</tspan>
<tspan x="30.652" y="-0.796" style="font-size: 11px; font-family: 'DejaVu Sans', sans-serif"> </tspan>
<tspan x="34.149" y="-0.796" style="font-size: 11px; font-family: 'DejaVu Sans', sans-serif">e</tspan>
<tspan x="40.916" y="-0.796" style="font-size: 11px; font-family: 'DejaVu Sans', sans-serif">r</tspan>
<tspan x="45.439" y="-0.796" style="font-size: 11px; font-family: 'DejaVu Sans', sans-serif">g</tspan>
<tspan x="52.421" y="-0.796" style="font-size: 11px; font-family: 'DejaVu Sans', sans-serif"> </tspan>
<tspan x="55.918" y="-0.796" style="font-size: 11px; font-family: 'DejaVu Sans', sans-serif">s</tspan>
<tspan x="75.192" y="-0.796" style="font-size: 11px; font-family: 'DejaVu Sans', sans-serif">c</tspan>
<tspan x="81.239" y="-0.796" style="font-size: 11px; font-family: 'DejaVu Sans', sans-serif">m</tspan>
<tspan x="105.498" y="-0.796" style="font-size: 11px; font-family: 'DejaVu Sans', sans-serif">Å</tspan>
<tspan x="14.102" y="-5.007" style="font-size: 7.7px; font-family: 'DejaVu Sans', sans-serif">−</tspan>
<tspan x="20.554" y="-5.007" style="font-size: 7.7px; font-family: 'DejaVu Sans', sans-serif">1</tspan>
<tspan x="25.453" y="-5.007" style="font-size: 7.7px; font-family: 'DejaVu Sans', sans-serif">8</tspan>
<tspan x="61.754" y="-5.007" style="font-size: 7.7px; font-family: 'DejaVu Sans', sans-serif">−</tspan>
<tspan x="68.206" y="-5.007" style="font-size: 7.7px; font-family: 'DejaVu Sans', sans-serif">1</tspan>
<tspan x="92.060" y="-5.007" style="font-size: 7.7px; font-family: 'DejaVu Sans', sans-serif">−</tspan>
<tspan x="98.512" y="-5.007" style="font-size: 7.7px; font-family: 'DejaVu Sans', sans-serif">2</tspan>
<tspan x="113.128" y="-5.007" style="font-size: 7.7px; font-family: 'DejaVu Sans', sans-serif">−</tspan>
<tspan x="119.579" y="-5.007" style="font-size: 7.7px; font-family: 'DejaVu Sans', sans-serif">1</tspan>
</text>
</g>
</g>
</g>
<g id="text_16">
<text style="font-size: 12px; font-family: 'DejaVu Sans', sans-serif; text-anchor: middle" x="369" y="19.92" transform="rotate(-0 369 19.92)">Spectrum of object 10689 in candels-cdfs-29</text>
</g>
</g>
</g>
</g>
</svg>
</body></html>
